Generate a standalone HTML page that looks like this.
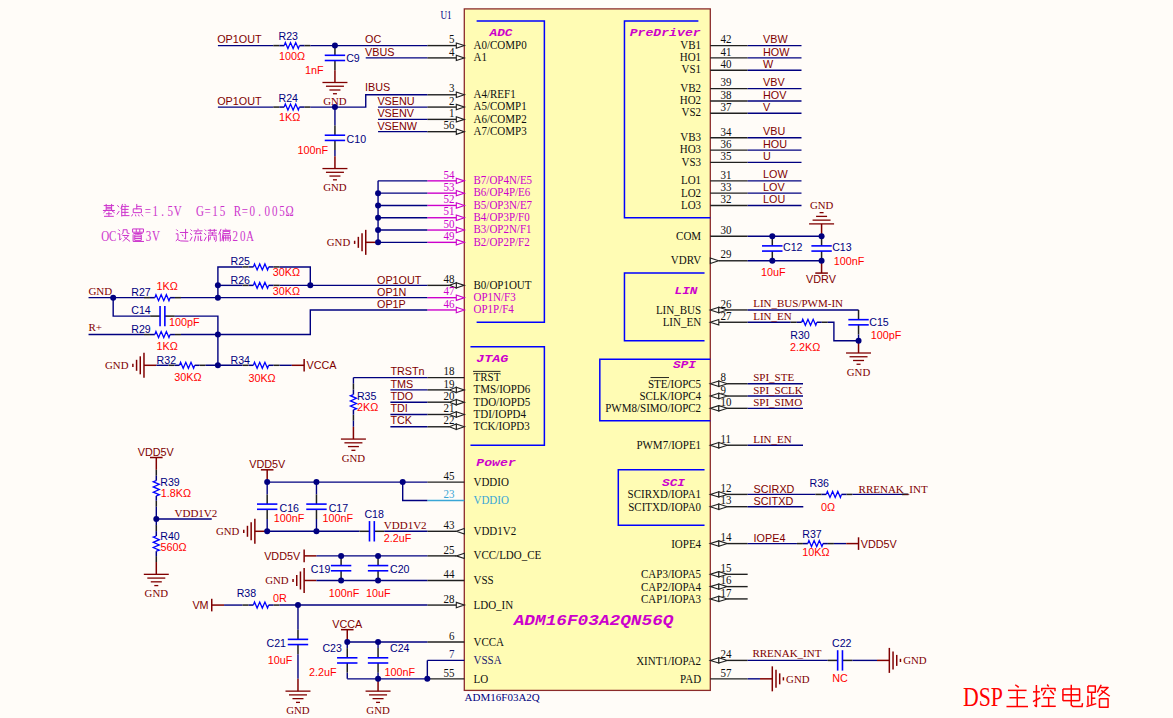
<!DOCTYPE html>
<html><head><meta charset="utf-8"><title>DSP</title>
<style>html,body{margin:0;padding:0;background:#FFFCF8;overflow:hidden;}svg{display:block;}</style>
</head><body>
<svg width="1173" height="718" viewBox="0 0 1173 718">
<rect x="0" y="0" width="1173" height="718" fill="#FFFCF8"/>
<rect x="464.3" y="8.9" width="246" height="681.5" stroke="#8B2A2A" stroke-width="1.3" fill="#FFFCB4"/>
<polyline points="476.62,21.01 544.38,21.01 544.38,322.26 476.62,322.26" stroke="#0000FF" stroke-width="1.5" fill="none" stroke-linejoin="miter"/>
<polyline points="698.38,21.01 624.46,21.01 624.46,217.74 710.3,217.74" stroke="#0000FF" stroke-width="1.5" fill="none" stroke-linejoin="miter"/>
<polyline points="704.54,273.08 624.46,273.08 624.46,340.7 704.54,340.7" stroke="#0000FF" stroke-width="1.5" fill="none" stroke-linejoin="miter"/>
<polyline points="710.3,359.15 599.82,359.15 599.82,420.63 710.3,420.63" stroke="#0000FF" stroke-width="1.5" fill="none" stroke-linejoin="miter"/>
<polyline points="470.46,346.85 544.38,346.85 544.38,445.22 470.46,445.22" stroke="#0000FF" stroke-width="1.5" fill="none" stroke-linejoin="miter"/>
<polyline points="704.54,469.81 618.3,469.81 618.3,525.14 704.54,525.14" stroke="#0000FF" stroke-width="1.5" fill="none" stroke-linejoin="miter"/>
<text x="489.5" y="36.2" fill="#CC00CC" font-size="11.2" font-family='"Liberation Mono", monospace' textLength="23" lengthAdjust="spacingAndGlyphs" font-weight="bold" font-style="italic">ADC</text>
<text x="700.7" y="36.2" fill="#CC00CC" font-size="11.2" font-family='"Liberation Mono", monospace' text-anchor="end" textLength="71" lengthAdjust="spacingAndGlyphs" font-weight="bold" font-style="italic">PreDriver</text>
<text x="697.5" y="293.5" fill="#CC00CC" font-size="11.2" font-family='"Liberation Mono", monospace' text-anchor="end" textLength="23" lengthAdjust="spacingAndGlyphs" font-weight="bold" font-style="italic">LIN</text>
<text x="696" y="368.2" fill="#CC00CC" font-size="11.2" font-family='"Liberation Mono", monospace' text-anchor="end" textLength="23" lengthAdjust="spacingAndGlyphs" font-weight="bold" font-style="italic">SPI</text>
<text x="476.3" y="361.8" fill="#CC00CC" font-size="11.2" font-family='"Liberation Mono", monospace' textLength="32" lengthAdjust="spacingAndGlyphs" font-weight="bold" font-style="italic">JTAG</text>
<text x="476.3" y="466" fill="#CC00CC" font-size="11.2" font-family='"Liberation Mono", monospace' textLength="39.5" lengthAdjust="spacingAndGlyphs" font-weight="bold" font-style="italic">Power</text>
<text x="685" y="486" fill="#CC00CC" font-size="11.2" font-family='"Liberation Mono", monospace' text-anchor="end" textLength="23" lengthAdjust="spacingAndGlyphs" font-weight="bold" font-style="italic">SCI</text>
<text x="513.7" y="624.8" fill="#CC00CC" font-size="14.5" font-family='"Liberation Mono", monospace' textLength="159.8" lengthAdjust="spacingAndGlyphs" font-weight="bold" font-style="italic">ADM16F03A2QN56Q</text>
<text x="446" y="18.8" fill="#000080" font-size="11.5" font-family='"Liberation Serif", serif' text-anchor="middle" textLength="11.2" lengthAdjust="spacingAndGlyphs">U1</text>
<text x="464.6" y="700.8" fill="#000080" font-size="11" font-family='"Liberation Serif", serif'>ADM16F03A2Q</text>
<line x1="427.34" y1="45.6" x2="456.3" y2="45.6" stroke="#202020" stroke-width="1.4" stroke-linecap="butt"/>
<polygon points="456.3,42.9 464.3,45.6 456.3,48.3" stroke="#202020" stroke-width="1.1" fill="#FFFCF8" stroke-linejoin="miter"/>
<g transform="translate(454.6,43.3) scale(1,1.12)">
<text x="0" y="0" fill="#101010" font-size="11" font-family='"Liberation Serif", serif' text-anchor="end">5</text>
</g>
<g transform="translate(473.5,48.75) scale(1,1.08)">
<text x="0" y="0" fill="#101010" font-size="11" font-family='"Liberation Serif", serif'>A0/COMP0</text>
</g>
<line x1="427.34" y1="57.9" x2="456.3" y2="57.9" stroke="#202020" stroke-width="1.4" stroke-linecap="butt"/>
<polygon points="456.3,55.2 464.3,57.9 456.3,60.6" stroke="#202020" stroke-width="1.1" fill="#FFFCF8" stroke-linejoin="miter"/>
<g transform="translate(454.6,55.6) scale(1,1.12)">
<text x="0" y="0" fill="#101010" font-size="11" font-family='"Liberation Serif", serif' text-anchor="end">4</text>
</g>
<g transform="translate(473.5,61.06) scale(1,1.08)">
<text x="0" y="0" fill="#101010" font-size="11" font-family='"Liberation Serif", serif'>A1</text>
</g>
<line x1="427.34" y1="94.78" x2="456.3" y2="94.78" stroke="#202020" stroke-width="1.4" stroke-linecap="butt"/>
<polygon points="456.3,92.08 464.3,94.78 456.3,97.48" stroke="#202020" stroke-width="1.1" fill="#FFFCF8" stroke-linejoin="miter"/>
<g transform="translate(454.6,92.48) scale(1,1.12)">
<text x="0" y="0" fill="#101010" font-size="11" font-family='"Liberation Serif", serif' text-anchor="end">3</text>
</g>
<g transform="translate(473.5,97.97) scale(1,1.08)">
<text x="0" y="0" fill="#101010" font-size="11" font-family='"Liberation Serif", serif'>A4/REF1</text>
</g>
<line x1="427.34" y1="107.08" x2="456.3" y2="107.08" stroke="#202020" stroke-width="1.4" stroke-linecap="butt"/>
<polygon points="456.3,104.38 464.3,107.08 456.3,109.78" stroke="#202020" stroke-width="1.1" fill="#FFFCF8" stroke-linejoin="miter"/>
<g transform="translate(454.6,104.78) scale(1,1.12)">
<text x="0" y="0" fill="#101010" font-size="11" font-family='"Liberation Serif", serif' text-anchor="end">2</text>
</g>
<g transform="translate(473.5,110.28) scale(1,1.08)">
<text x="0" y="0" fill="#101010" font-size="11" font-family='"Liberation Serif", serif'>A5/COMP1</text>
</g>
<line x1="427.34" y1="119.38" x2="456.3" y2="119.38" stroke="#202020" stroke-width="1.4" stroke-linecap="butt"/>
<polygon points="456.3,116.68 464.3,119.38 456.3,122.08" stroke="#202020" stroke-width="1.1" fill="#FFFCF8" stroke-linejoin="miter"/>
<g transform="translate(454.6,117.08) scale(1,1.12)">
<text x="0" y="0" fill="#101010" font-size="11" font-family='"Liberation Serif", serif' text-anchor="end">1</text>
</g>
<g transform="translate(473.5,122.59) scale(1,1.08)">
<text x="0" y="0" fill="#101010" font-size="11" font-family='"Liberation Serif", serif'>A6/COMP2</text>
</g>
<line x1="427.34" y1="131.67" x2="456.3" y2="131.67" stroke="#202020" stroke-width="1.4" stroke-linecap="butt"/>
<polygon points="456.3,128.97 464.3,131.67 456.3,134.37" stroke="#202020" stroke-width="1.1" fill="#FFFCF8" stroke-linejoin="miter"/>
<g transform="translate(454.6,129.37) scale(1,1.12)">
<text x="0" y="0" fill="#101010" font-size="11" font-family='"Liberation Serif", serif' text-anchor="end">56</text>
</g>
<g transform="translate(473.5,134.89) scale(1,1.08)">
<text x="0" y="0" fill="#101010" font-size="11" font-family='"Liberation Serif", serif'>A7/COMP3</text>
</g>
<line x1="427.34" y1="180.86" x2="456.3" y2="180.86" stroke="#CC00CC" stroke-width="1.4" stroke-linecap="butt"/>
<polygon points="456.3,178.16 464.3,180.86 456.3,183.56" stroke="#CC00CC" stroke-width="1.1" fill="#FFFCF8" stroke-linejoin="miter"/>
<g transform="translate(454.6,178.56) scale(1,1.12)">
<text x="0" y="0" fill="#CC00CC" font-size="11" font-family='"Liberation Serif", serif' text-anchor="end">54</text>
</g>
<g transform="translate(473.5,184.12) scale(1,1.08)">
<text x="0" y="0" fill="#CC00CC" font-size="11" font-family='"Liberation Serif", serif'>B7/OP4N/E5</text>
</g>
<line x1="427.34" y1="193.15" x2="456.3" y2="193.15" stroke="#CC00CC" stroke-width="1.4" stroke-linecap="butt"/>
<polygon points="456.3,190.45 464.3,193.15 456.3,195.85" stroke="#CC00CC" stroke-width="1.1" fill="#FFFCF8" stroke-linejoin="miter"/>
<g transform="translate(454.6,190.85) scale(1,1.12)">
<text x="0" y="0" fill="#CC00CC" font-size="11" font-family='"Liberation Serif", serif' text-anchor="end">53</text>
</g>
<g transform="translate(473.5,196.42) scale(1,1.08)">
<text x="0" y="0" fill="#CC00CC" font-size="11" font-family='"Liberation Serif", serif'>B6/OP4P/E6</text>
</g>
<line x1="427.34" y1="205.45" x2="456.3" y2="205.45" stroke="#CC00CC" stroke-width="1.4" stroke-linecap="butt"/>
<polygon points="456.3,202.75 464.3,205.45 456.3,208.15" stroke="#CC00CC" stroke-width="1.1" fill="#FFFCF8" stroke-linejoin="miter"/>
<g transform="translate(454.6,203.15) scale(1,1.12)">
<text x="0" y="0" fill="#CC00CC" font-size="11" font-family='"Liberation Serif", serif' text-anchor="end">52</text>
</g>
<g transform="translate(473.5,208.73) scale(1,1.08)">
<text x="0" y="0" fill="#CC00CC" font-size="11" font-family='"Liberation Serif", serif'>B5/OP3N/E7</text>
</g>
<line x1="427.34" y1="217.74" x2="456.3" y2="217.74" stroke="#CC00CC" stroke-width="1.4" stroke-linecap="butt"/>
<polygon points="456.3,215.04 464.3,217.74 456.3,220.44" stroke="#CC00CC" stroke-width="1.1" fill="#FFFCF8" stroke-linejoin="miter"/>
<g transform="translate(454.6,215.44) scale(1,1.12)">
<text x="0" y="0" fill="#CC00CC" font-size="11" font-family='"Liberation Serif", serif' text-anchor="end">51</text>
</g>
<g transform="translate(473.5,221.03) scale(1,1.08)">
<text x="0" y="0" fill="#CC00CC" font-size="11" font-family='"Liberation Serif", serif'>B4/OP3P/F0</text>
</g>
<line x1="427.34" y1="230.04" x2="456.3" y2="230.04" stroke="#CC00CC" stroke-width="1.4" stroke-linecap="butt"/>
<polygon points="456.3,227.34 464.3,230.04 456.3,232.74" stroke="#CC00CC" stroke-width="1.1" fill="#FFFCF8" stroke-linejoin="miter"/>
<g transform="translate(454.6,227.74) scale(1,1.12)">
<text x="0" y="0" fill="#CC00CC" font-size="11" font-family='"Liberation Serif", serif' text-anchor="end">50</text>
</g>
<g transform="translate(473.5,233.34) scale(1,1.08)">
<text x="0" y="0" fill="#CC00CC" font-size="11" font-family='"Liberation Serif", serif'>B3/OP2N/F1</text>
</g>
<line x1="427.34" y1="242.34" x2="456.3" y2="242.34" stroke="#CC00CC" stroke-width="1.4" stroke-linecap="butt"/>
<polygon points="456.3,239.64 464.3,242.34 456.3,245.04" stroke="#CC00CC" stroke-width="1.1" fill="#FFFCF8" stroke-linejoin="miter"/>
<g transform="translate(454.6,240.04) scale(1,1.12)">
<text x="0" y="0" fill="#CC00CC" font-size="11" font-family='"Liberation Serif", serif' text-anchor="end">49</text>
</g>
<g transform="translate(473.5,245.65) scale(1,1.08)">
<text x="0" y="0" fill="#CC00CC" font-size="11" font-family='"Liberation Serif", serif'>B2/OP2P/F2</text>
</g>
<line x1="427.34" y1="285.37" x2="449.3" y2="285.37" stroke="#202020" stroke-width="1.4" stroke-linecap="butt"/>
<polygon points="456.3,282.67 464.3,285.37 456.3,288.07" stroke="#202020" stroke-width="1.1" fill="#FFFCF8" stroke-linejoin="miter"/>
<polygon points="456.3,282.67 449.3,285.37 456.3,288.07" stroke="#202020" stroke-width="1.1" fill="#FFFCF8" stroke-linejoin="miter"/>
<g transform="translate(454.6,283.07) scale(1,1.12)">
<text x="0" y="0" fill="#101010" font-size="11" font-family='"Liberation Serif", serif' text-anchor="end">48</text>
</g>
<g transform="translate(473.5,288.72) scale(1,1.08)">
<text x="0" y="0" fill="#101010" font-size="11" font-family='"Liberation Serif", serif'>B0/OP1OUT</text>
</g>
<line x1="427.34" y1="297.67" x2="456.3" y2="297.67" stroke="#CC00CC" stroke-width="1.4" stroke-linecap="butt"/>
<polygon points="456.3,294.97 464.3,297.67 456.3,300.37" stroke="#CC00CC" stroke-width="1.1" fill="#FFFCF8" stroke-linejoin="miter"/>
<g transform="translate(454.6,295.37) scale(1,1.12)">
<text x="0" y="0" fill="#CC00CC" font-size="11" font-family='"Liberation Serif", serif' text-anchor="end">47</text>
</g>
<g transform="translate(473.5,301.02) scale(1,1.08)">
<text x="0" y="0" fill="#CC00CC" font-size="11" font-family='"Liberation Serif", serif'>OP1N/F3</text>
</g>
<line x1="427.34" y1="309.96" x2="456.3" y2="309.96" stroke="#CC00CC" stroke-width="1.4" stroke-linecap="butt"/>
<polygon points="456.3,307.26 464.3,309.96 456.3,312.66" stroke="#CC00CC" stroke-width="1.1" fill="#FFFCF8" stroke-linejoin="miter"/>
<g transform="translate(454.6,307.66) scale(1,1.12)">
<text x="0" y="0" fill="#CC00CC" font-size="11" font-family='"Liberation Serif", serif' text-anchor="end">46</text>
</g>
<g transform="translate(473.5,313.33) scale(1,1.08)">
<text x="0" y="0" fill="#CC00CC" font-size="11" font-family='"Liberation Serif", serif'>OP1P/F4</text>
</g>
<line x1="427.34" y1="377.59" x2="464.3" y2="377.59" stroke="#202020" stroke-width="1.4" stroke-linecap="butt"/>
<g transform="translate(454.6,375.29) scale(1,1.12)">
<text x="0" y="0" fill="#101010" font-size="11" font-family='"Liberation Serif", serif' text-anchor="end">18</text>
</g>
<g transform="translate(473.5,381.01) scale(1,1.08)">
<text x="0" y="0" fill="#101010" font-size="11" font-family='"Liberation Serif", serif'>TRST</text>
</g>
<line x1="427.34" y1="389.89" x2="449.3" y2="389.89" stroke="#202020" stroke-width="1.4" stroke-linecap="butt"/>
<polygon points="456.3,387.19 464.3,389.89 456.3,392.59" stroke="#202020" stroke-width="1.1" fill="#FFFCF8" stroke-linejoin="miter"/>
<polygon points="456.3,387.19 449.3,389.89 456.3,392.59" stroke="#202020" stroke-width="1.1" fill="#FFFCF8" stroke-linejoin="miter"/>
<g transform="translate(454.6,387.59) scale(1,1.12)">
<text x="0" y="0" fill="#101010" font-size="11" font-family='"Liberation Serif", serif' text-anchor="end">19</text>
</g>
<g transform="translate(473.5,393.32) scale(1,1.08)">
<text x="0" y="0" fill="#101010" font-size="11" font-family='"Liberation Serif", serif'>TMS/IOPD6</text>
</g>
<line x1="427.34" y1="402.18" x2="449.3" y2="402.18" stroke="#202020" stroke-width="1.4" stroke-linecap="butt"/>
<polygon points="456.3,399.48 464.3,402.18 456.3,404.88" stroke="#202020" stroke-width="1.1" fill="#FFFCF8" stroke-linejoin="miter"/>
<polygon points="456.3,399.48 449.3,402.18 456.3,404.88" stroke="#202020" stroke-width="1.1" fill="#FFFCF8" stroke-linejoin="miter"/>
<g transform="translate(454.6,399.88) scale(1,1.12)">
<text x="0" y="0" fill="#101010" font-size="11" font-family='"Liberation Serif", serif' text-anchor="end">20</text>
</g>
<g transform="translate(473.5,405.62) scale(1,1.08)">
<text x="0" y="0" fill="#101010" font-size="11" font-family='"Liberation Serif", serif'>TDO/IOPD5</text>
</g>
<line x1="427.34" y1="414.48" x2="449.3" y2="414.48" stroke="#202020" stroke-width="1.4" stroke-linecap="butt"/>
<polygon points="456.3,411.78 464.3,414.48 456.3,417.18" stroke="#202020" stroke-width="1.1" fill="#FFFCF8" stroke-linejoin="miter"/>
<polygon points="456.3,411.78 449.3,414.48 456.3,417.18" stroke="#202020" stroke-width="1.1" fill="#FFFCF8" stroke-linejoin="miter"/>
<g transform="translate(454.6,412.18) scale(1,1.12)">
<text x="0" y="0" fill="#101010" font-size="11" font-family='"Liberation Serif", serif' text-anchor="end">21</text>
</g>
<g transform="translate(473.5,417.93) scale(1,1.08)">
<text x="0" y="0" fill="#101010" font-size="11" font-family='"Liberation Serif", serif'>TDI/IOPD4</text>
</g>
<line x1="427.34" y1="426.78" x2="449.3" y2="426.78" stroke="#202020" stroke-width="1.4" stroke-linecap="butt"/>
<polygon points="456.3,424.08 464.3,426.78 456.3,429.48" stroke="#202020" stroke-width="1.1" fill="#FFFCF8" stroke-linejoin="miter"/>
<polygon points="456.3,424.08 449.3,426.78 456.3,429.48" stroke="#202020" stroke-width="1.1" fill="#FFFCF8" stroke-linejoin="miter"/>
<g transform="translate(454.6,424.48) scale(1,1.12)">
<text x="0" y="0" fill="#101010" font-size="11" font-family='"Liberation Serif", serif' text-anchor="end">22</text>
</g>
<g transform="translate(473.5,430.24) scale(1,1.08)">
<text x="0" y="0" fill="#101010" font-size="11" font-family='"Liberation Serif", serif'>TCK/IOPD3</text>
</g>
<line x1="427.34" y1="482.11" x2="464.3" y2="482.11" stroke="#202020" stroke-width="1.4" stroke-linecap="butt"/>
<g transform="translate(454.6,479.81) scale(1,1.12)">
<text x="0" y="0" fill="#101010" font-size="11" font-family='"Liberation Serif", serif' text-anchor="end">45</text>
</g>
<g transform="translate(473.5,485.61) scale(1,1.08)">
<text x="0" y="0" fill="#101010" font-size="11" font-family='"Liberation Serif", serif'>VDDIO</text>
</g>
<line x1="427.34" y1="500.55" x2="464.3" y2="500.55" stroke="#3AA6D6" stroke-width="1.4" stroke-linecap="butt"/>
<g transform="translate(454.6,498.25) scale(1,1.12)">
<text x="0" y="0" fill="#3AA6D6" font-size="11" font-family='"Liberation Serif", serif' text-anchor="end">23</text>
</g>
<g transform="translate(473.5,504.07) scale(1,1.08)">
<text x="0" y="0" fill="#3AA6D6" font-size="11" font-family='"Liberation Serif", serif'>VDDIO</text>
</g>
<line x1="427.34" y1="531.29" x2="456.3" y2="531.29" stroke="#202020" stroke-width="1.4" stroke-linecap="butt"/>
<polygon points="464.3,528.59 456.3,531.29 464.3,533.99" stroke="#202020" stroke-width="1.1" fill="#FFFCF8" stroke-linejoin="miter"/>
<g transform="translate(454.6,528.99) scale(1,1.12)">
<text x="0" y="0" fill="#101010" font-size="11" font-family='"Liberation Serif", serif' text-anchor="end">43</text>
</g>
<g transform="translate(473.5,534.84) scale(1,1.08)">
<text x="0" y="0" fill="#101010" font-size="11" font-family='"Liberation Serif", serif'>VDD1V2</text>
</g>
<line x1="427.34" y1="555.88" x2="456.3" y2="555.88" stroke="#202020" stroke-width="1.4" stroke-linecap="butt"/>
<polygon points="464.3,553.18 456.3,555.88 464.3,558.58" stroke="#202020" stroke-width="1.1" fill="#FFFCF8" stroke-linejoin="miter"/>
<g transform="translate(454.6,553.58) scale(1,1.12)">
<text x="0" y="0" fill="#101010" font-size="11" font-family='"Liberation Serif", serif' text-anchor="end">25</text>
</g>
<g transform="translate(473.5,559.45) scale(1,1.08)">
<text x="0" y="0" fill="#101010" font-size="11" font-family='"Liberation Serif", serif'>VCC/LDO_CE</text>
</g>
<line x1="427.34" y1="580.48" x2="464.3" y2="580.48" stroke="#202020" stroke-width="1.4" stroke-linecap="butt"/>
<g transform="translate(454.6,578.18) scale(1,1.12)">
<text x="0" y="0" fill="#101010" font-size="11" font-family='"Liberation Serif", serif' text-anchor="end">44</text>
</g>
<g transform="translate(473.5,584.06) scale(1,1.08)">
<text x="0" y="0" fill="#101010" font-size="11" font-family='"Liberation Serif", serif'>VSS</text>
</g>
<line x1="427.34" y1="605.07" x2="456.3" y2="605.07" stroke="#202020" stroke-width="1.4" stroke-linecap="butt"/>
<polygon points="456.3,602.37 464.3,605.07 456.3,607.77" stroke="#202020" stroke-width="1.1" fill="#FFFCF8" stroke-linejoin="miter"/>
<g transform="translate(454.6,602.77) scale(1,1.12)">
<text x="0" y="0" fill="#101010" font-size="11" font-family='"Liberation Serif", serif' text-anchor="end">28</text>
</g>
<g transform="translate(473.5,608.67) scale(1,1.08)">
<text x="0" y="0" fill="#101010" font-size="11" font-family='"Liberation Serif", serif'>LDO_IN</text>
</g>
<line x1="427.34" y1="641.96" x2="464.3" y2="641.96" stroke="#202020" stroke-width="1.4" stroke-linecap="butt"/>
<g transform="translate(454.6,639.66) scale(1,1.12)">
<text x="0" y="0" fill="#101010" font-size="11" font-family='"Liberation Serif", serif' text-anchor="end">6</text>
</g>
<g transform="translate(473.5,645.59) scale(1,1.08)">
<text x="0" y="0" fill="#101010" font-size="11" font-family='"Liberation Serif", serif'>VCCA</text>
</g>
<line x1="427.34" y1="660.4" x2="464.3" y2="660.4" stroke="#000080" stroke-width="1.4" stroke-linecap="butt"/>
<g transform="translate(454.6,658.1) scale(1,1.12)">
<text x="0" y="0" fill="#1a1a70" font-size="11" font-family='"Liberation Serif", serif' text-anchor="end">7</text>
</g>
<g transform="translate(473.5,664.05) scale(1,1.08)">
<text x="0" y="0" fill="#1a1a70" font-size="11" font-family='"Liberation Serif", serif'>VSSA</text>
</g>
<line x1="427.34" y1="678.84" x2="464.3" y2="678.84" stroke="#202020" stroke-width="1.4" stroke-linecap="butt"/>
<g transform="translate(454.6,676.54) scale(1,1.12)">
<text x="0" y="0" fill="#101010" font-size="11" font-family='"Liberation Serif", serif' text-anchor="end">55</text>
</g>
<g transform="translate(473.5,682.51) scale(1,1.08)">
<text x="0" y="0" fill="#101010" font-size="11" font-family='"Liberation Serif", serif'>LO</text>
</g>
<line x1="473" y1="371.39" x2="500.5" y2="371.39" stroke="#101010" stroke-width="0.9" stroke-linecap="butt"/>
<line x1="710.3" y1="45.6" x2="747.66" y2="45.6" stroke="#202020" stroke-width="1.4" stroke-linecap="butt"/>
<g transform="translate(720.5,43.3) scale(1,1.12)">
<text x="0" y="0" fill="#101010" font-size="11" font-family='"Liberation Serif", serif'>42</text>
</g>
<g transform="translate(701.1,48.7) scale(1,1.08)">
<text x="0" y="0" fill="#101010" font-size="11" font-family='"Liberation Serif", serif' text-anchor="end">VB1</text>
</g>
<line x1="710.3" y1="57.9" x2="747.66" y2="57.9" stroke="#202020" stroke-width="1.4" stroke-linecap="butt"/>
<g transform="translate(720.5,55.6) scale(1,1.12)">
<text x="0" y="0" fill="#101010" font-size="11" font-family='"Liberation Serif", serif'>41</text>
</g>
<g transform="translate(701.1,61.02) scale(1,1.08)">
<text x="0" y="0" fill="#101010" font-size="11" font-family='"Liberation Serif", serif' text-anchor="end">HO1</text>
</g>
<line x1="710.3" y1="70.19" x2="747.66" y2="70.19" stroke="#202020" stroke-width="1.4" stroke-linecap="butt"/>
<g transform="translate(720.5,67.89) scale(1,1.12)">
<text x="0" y="0" fill="#101010" font-size="11" font-family='"Liberation Serif", serif'>40</text>
</g>
<g transform="translate(701.1,73.34) scale(1,1.08)">
<text x="0" y="0" fill="#101010" font-size="11" font-family='"Liberation Serif", serif' text-anchor="end">VS1</text>
</g>
<line x1="710.3" y1="88.64" x2="747.66" y2="88.64" stroke="#202020" stroke-width="1.4" stroke-linecap="butt"/>
<g transform="translate(720.5,86.34) scale(1,1.12)">
<text x="0" y="0" fill="#101010" font-size="11" font-family='"Liberation Serif", serif'>39</text>
</g>
<g transform="translate(701.1,91.82) scale(1,1.08)">
<text x="0" y="0" fill="#101010" font-size="11" font-family='"Liberation Serif", serif' text-anchor="end">VB2</text>
</g>
<line x1="710.3" y1="100.93" x2="747.66" y2="100.93" stroke="#202020" stroke-width="1.4" stroke-linecap="butt"/>
<g transform="translate(720.5,98.63) scale(1,1.12)">
<text x="0" y="0" fill="#101010" font-size="11" font-family='"Liberation Serif", serif'>38</text>
</g>
<g transform="translate(701.1,104.14) scale(1,1.08)">
<text x="0" y="0" fill="#101010" font-size="11" font-family='"Liberation Serif", serif' text-anchor="end">HO2</text>
</g>
<line x1="710.3" y1="113.23" x2="747.66" y2="113.23" stroke="#202020" stroke-width="1.4" stroke-linecap="butt"/>
<g transform="translate(720.5,110.93) scale(1,1.12)">
<text x="0" y="0" fill="#101010" font-size="11" font-family='"Liberation Serif", serif'>37</text>
</g>
<g transform="translate(701.1,116.46) scale(1,1.08)">
<text x="0" y="0" fill="#101010" font-size="11" font-family='"Liberation Serif", serif' text-anchor="end">VS2</text>
</g>
<line x1="710.3" y1="137.82" x2="747.66" y2="137.82" stroke="#202020" stroke-width="1.4" stroke-linecap="butt"/>
<g transform="translate(720.5,135.52) scale(1,1.12)">
<text x="0" y="0" fill="#101010" font-size="11" font-family='"Liberation Serif", serif'>34</text>
</g>
<g transform="translate(701.1,141.1) scale(1,1.08)">
<text x="0" y="0" fill="#101010" font-size="11" font-family='"Liberation Serif", serif' text-anchor="end">VB3</text>
</g>
<line x1="710.3" y1="150.12" x2="747.66" y2="150.12" stroke="#202020" stroke-width="1.4" stroke-linecap="butt"/>
<g transform="translate(720.5,147.82) scale(1,1.12)">
<text x="0" y="0" fill="#101010" font-size="11" font-family='"Liberation Serif", serif'>36</text>
</g>
<g transform="translate(701.1,153.42) scale(1,1.08)">
<text x="0" y="0" fill="#101010" font-size="11" font-family='"Liberation Serif", serif' text-anchor="end">HO3</text>
</g>
<line x1="710.3" y1="162.41" x2="747.66" y2="162.41" stroke="#202020" stroke-width="1.4" stroke-linecap="butt"/>
<g transform="translate(720.5,160.11) scale(1,1.12)">
<text x="0" y="0" fill="#101010" font-size="11" font-family='"Liberation Serif", serif'>35</text>
</g>
<g transform="translate(701.1,165.74) scale(1,1.08)">
<text x="0" y="0" fill="#101010" font-size="11" font-family='"Liberation Serif", serif' text-anchor="end">VS3</text>
</g>
<line x1="710.3" y1="180.86" x2="747.66" y2="180.86" stroke="#202020" stroke-width="1.4" stroke-linecap="butt"/>
<g transform="translate(720.5,178.56) scale(1,1.12)">
<text x="0" y="0" fill="#101010" font-size="11" font-family='"Liberation Serif", serif'>31</text>
</g>
<g transform="translate(701.1,184.22) scale(1,1.08)">
<text x="0" y="0" fill="#101010" font-size="11" font-family='"Liberation Serif", serif' text-anchor="end">LO1</text>
</g>
<line x1="710.3" y1="193.15" x2="747.66" y2="193.15" stroke="#202020" stroke-width="1.4" stroke-linecap="butt"/>
<g transform="translate(720.5,190.85) scale(1,1.12)">
<text x="0" y="0" fill="#101010" font-size="11" font-family='"Liberation Serif", serif'>33</text>
</g>
<g transform="translate(701.1,196.54) scale(1,1.08)">
<text x="0" y="0" fill="#101010" font-size="11" font-family='"Liberation Serif", serif' text-anchor="end">LO2</text>
</g>
<line x1="710.3" y1="205.45" x2="747.66" y2="205.45" stroke="#202020" stroke-width="1.4" stroke-linecap="butt"/>
<g transform="translate(720.5,203.15) scale(1,1.12)">
<text x="0" y="0" fill="#101010" font-size="11" font-family='"Liberation Serif", serif'>32</text>
</g>
<g transform="translate(701.1,208.86) scale(1,1.08)">
<text x="0" y="0" fill="#101010" font-size="11" font-family='"Liberation Serif", serif' text-anchor="end">LO3</text>
</g>
<line x1="710.3" y1="236.19" x2="747.66" y2="236.19" stroke="#202020" stroke-width="1.4" stroke-linecap="butt"/>
<g transform="translate(720.5,233.89) scale(1,1.12)">
<text x="0" y="0" fill="#101010" font-size="11" font-family='"Liberation Serif", serif'>30</text>
</g>
<g transform="translate(701.1,239.66) scale(1,1.08)">
<text x="0" y="0" fill="#101010" font-size="11" font-family='"Liberation Serif", serif' text-anchor="end">COM</text>
</g>
<line x1="718.8" y1="260.78" x2="747.66" y2="260.78" stroke="#202020" stroke-width="1.4" stroke-linecap="butt"/>
<polygon points="710.3,258.08 718.6,260.78 710.3,263.48" stroke="#202020" stroke-width="1.1" fill="#FFFCF8" stroke-linejoin="miter"/>
<g transform="translate(720.5,258.48) scale(1,1.12)">
<text x="0" y="0" fill="#101010" font-size="11" font-family='"Liberation Serif", serif'>29</text>
</g>
<g transform="translate(701.1,264.3) scale(1,1.08)">
<text x="0" y="0" fill="#101010" font-size="11" font-family='"Liberation Serif", serif' text-anchor="end">VDRV</text>
</g>
<line x1="727.3" y1="309.96" x2="747.66" y2="309.96" stroke="#202020" stroke-width="1.4" stroke-linecap="butt"/>
<polygon points="718.8,307.26 710.3,309.96 718.8,312.66" stroke="#202020" stroke-width="1.1" fill="#FFFCF8" stroke-linejoin="miter"/>
<polygon points="718.8,307.26 727.3,309.96 718.8,312.66" stroke="#202020" stroke-width="1.1" fill="#FFFCF8" stroke-linejoin="miter"/>
<g transform="translate(720.5,307.66) scale(1,1.12)">
<text x="0" y="0" fill="#101010" font-size="11" font-family='"Liberation Serif", serif'>26</text>
</g>
<g transform="translate(701.1,313.58) scale(1,1.08)">
<text x="0" y="0" fill="#101010" font-size="11" font-family='"Liberation Serif", serif' text-anchor="end">LIN_BUS</text>
</g>
<line x1="718.8" y1="322.26" x2="747.66" y2="322.26" stroke="#202020" stroke-width="1.4" stroke-linecap="butt"/>
<polygon points="718.8,319.56 710.3,322.26 718.8,324.96" stroke="#202020" stroke-width="1.1" fill="#FFFCF8" stroke-linejoin="miter"/>
<g transform="translate(720.5,319.96) scale(1,1.12)">
<text x="0" y="0" fill="#101010" font-size="11" font-family='"Liberation Serif", serif'>27</text>
</g>
<g transform="translate(701.1,325.9) scale(1,1.08)">
<text x="0" y="0" fill="#101010" font-size="11" font-family='"Liberation Serif", serif' text-anchor="end">LIN_EN</text>
</g>
<line x1="727.3" y1="383.74" x2="747.66" y2="383.74" stroke="#202020" stroke-width="1.4" stroke-linecap="butt"/>
<polygon points="718.8,381.04 710.3,383.74 718.8,386.44" stroke="#202020" stroke-width="1.1" fill="#FFFCF8" stroke-linejoin="miter"/>
<polygon points="718.8,381.04 727.3,383.74 718.8,386.44" stroke="#202020" stroke-width="1.1" fill="#FFFCF8" stroke-linejoin="miter"/>
<g transform="translate(720.5,381.44) scale(1,1.12)">
<text x="0" y="0" fill="#101010" font-size="11" font-family='"Liberation Serif", serif'>8</text>
</g>
<g transform="translate(701.1,387.5) scale(1,1.08)">
<text x="0" y="0" fill="#101010" font-size="11" font-family='"Liberation Serif", serif' text-anchor="end">STE/IOPC5</text>
</g>
<line x1="727.3" y1="396.04" x2="747.66" y2="396.04" stroke="#202020" stroke-width="1.4" stroke-linecap="butt"/>
<polygon points="718.8,393.34 710.3,396.04 718.8,398.74" stroke="#202020" stroke-width="1.1" fill="#FFFCF8" stroke-linejoin="miter"/>
<polygon points="718.8,393.34 727.3,396.04 718.8,398.74" stroke="#202020" stroke-width="1.1" fill="#FFFCF8" stroke-linejoin="miter"/>
<g transform="translate(720.5,393.74) scale(1,1.12)">
<text x="0" y="0" fill="#101010" font-size="11" font-family='"Liberation Serif", serif'>9</text>
</g>
<g transform="translate(701.1,399.82) scale(1,1.08)">
<text x="0" y="0" fill="#101010" font-size="11" font-family='"Liberation Serif", serif' text-anchor="end">SCLK/IOPC4</text>
</g>
<line x1="727.3" y1="408.33" x2="747.66" y2="408.33" stroke="#202020" stroke-width="1.4" stroke-linecap="butt"/>
<polygon points="718.8,405.63 710.3,408.33 718.8,411.03" stroke="#202020" stroke-width="1.1" fill="#FFFCF8" stroke-linejoin="miter"/>
<polygon points="718.8,405.63 727.3,408.33 718.8,411.03" stroke="#202020" stroke-width="1.1" fill="#FFFCF8" stroke-linejoin="miter"/>
<g transform="translate(720.5,406.03) scale(1,1.12)">
<text x="0" y="0" fill="#101010" font-size="11" font-family='"Liberation Serif", serif'>10</text>
</g>
<g transform="translate(701.1,412.14) scale(1,1.08)">
<text x="0" y="0" fill="#101010" font-size="11" font-family='"Liberation Serif", serif' text-anchor="end">PWM8/SIMO/IOPC2</text>
</g>
<line x1="727.3" y1="445.22" x2="747.66" y2="445.22" stroke="#202020" stroke-width="1.4" stroke-linecap="butt"/>
<polygon points="718.8,442.52 710.3,445.22 718.8,447.92" stroke="#202020" stroke-width="1.1" fill="#FFFCF8" stroke-linejoin="miter"/>
<polygon points="718.8,442.52 727.3,445.22 718.8,447.92" stroke="#202020" stroke-width="1.1" fill="#FFFCF8" stroke-linejoin="miter"/>
<g transform="translate(720.5,442.92) scale(1,1.12)">
<text x="0" y="0" fill="#101010" font-size="11" font-family='"Liberation Serif", serif'>11</text>
</g>
<g transform="translate(701.1,449.1) scale(1,1.08)">
<text x="0" y="0" fill="#101010" font-size="11" font-family='"Liberation Serif", serif' text-anchor="end">PWM7/IOPE1</text>
</g>
<line x1="727.3" y1="494.4" x2="747.66" y2="494.4" stroke="#202020" stroke-width="1.4" stroke-linecap="butt"/>
<polygon points="718.8,491.7 710.3,494.4 718.8,497.1" stroke="#202020" stroke-width="1.1" fill="#FFFCF8" stroke-linejoin="miter"/>
<polygon points="718.8,491.7 727.3,494.4 718.8,497.1" stroke="#202020" stroke-width="1.1" fill="#FFFCF8" stroke-linejoin="miter"/>
<g transform="translate(720.5,492.1) scale(1,1.12)">
<text x="0" y="0" fill="#101010" font-size="11" font-family='"Liberation Serif", serif'>12</text>
</g>
<g transform="translate(701.1,498.38) scale(1,1.08)">
<text x="0" y="0" fill="#101010" font-size="11" font-family='"Liberation Serif", serif' text-anchor="end">SCIRXD/IOPA1</text>
</g>
<line x1="727.3" y1="506.7" x2="747.66" y2="506.7" stroke="#202020" stroke-width="1.4" stroke-linecap="butt"/>
<polygon points="718.8,504 710.3,506.7 718.8,509.4" stroke="#202020" stroke-width="1.1" fill="#FFFCF8" stroke-linejoin="miter"/>
<polygon points="718.8,504 727.3,506.7 718.8,509.4" stroke="#202020" stroke-width="1.1" fill="#FFFCF8" stroke-linejoin="miter"/>
<g transform="translate(720.5,504.4) scale(1,1.12)">
<text x="0" y="0" fill="#101010" font-size="11" font-family='"Liberation Serif", serif'>13</text>
</g>
<g transform="translate(701.1,510.7) scale(1,1.08)">
<text x="0" y="0" fill="#101010" font-size="11" font-family='"Liberation Serif", serif' text-anchor="end">SCITXD/IOPA0</text>
</g>
<line x1="727.3" y1="543.59" x2="747.66" y2="543.59" stroke="#202020" stroke-width="1.4" stroke-linecap="butt"/>
<polygon points="718.8,540.89 710.3,543.59 718.8,546.29" stroke="#202020" stroke-width="1.1" fill="#FFFCF8" stroke-linejoin="miter"/>
<polygon points="718.8,540.89 727.3,543.59 718.8,546.29" stroke="#202020" stroke-width="1.1" fill="#FFFCF8" stroke-linejoin="miter"/>
<g transform="translate(720.5,541.29) scale(1,1.12)">
<text x="0" y="0" fill="#101010" font-size="11" font-family='"Liberation Serif", serif'>14</text>
</g>
<g transform="translate(701.1,547.66) scale(1,1.08)">
<text x="0" y="0" fill="#101010" font-size="11" font-family='"Liberation Serif", serif' text-anchor="end">IOPE4</text>
</g>
<line x1="727.3" y1="574.33" x2="747.66" y2="574.33" stroke="#202020" stroke-width="1.4" stroke-linecap="butt"/>
<polygon points="718.8,571.63 710.3,574.33 718.8,577.03" stroke="#202020" stroke-width="1.1" fill="#FFFCF8" stroke-linejoin="miter"/>
<polygon points="718.8,571.63 727.3,574.33 718.8,577.03" stroke="#202020" stroke-width="1.1" fill="#FFFCF8" stroke-linejoin="miter"/>
<g transform="translate(720.5,572.03) scale(1,1.12)">
<text x="0" y="0" fill="#101010" font-size="11" font-family='"Liberation Serif", serif'>15</text>
</g>
<g transform="translate(701.1,578.46) scale(1,1.08)">
<text x="0" y="0" fill="#101010" font-size="11" font-family='"Liberation Serif", serif' text-anchor="end">CAP3/IOPA5</text>
</g>
<line x1="727.3" y1="586.62" x2="747.66" y2="586.62" stroke="#202020" stroke-width="1.4" stroke-linecap="butt"/>
<polygon points="718.8,583.92 710.3,586.62 718.8,589.32" stroke="#202020" stroke-width="1.1" fill="#FFFCF8" stroke-linejoin="miter"/>
<polygon points="718.8,583.92 727.3,586.62 718.8,589.32" stroke="#202020" stroke-width="1.1" fill="#FFFCF8" stroke-linejoin="miter"/>
<g transform="translate(720.5,584.32) scale(1,1.12)">
<text x="0" y="0" fill="#101010" font-size="11" font-family='"Liberation Serif", serif'>16</text>
</g>
<g transform="translate(701.1,590.78) scale(1,1.08)">
<text x="0" y="0" fill="#101010" font-size="11" font-family='"Liberation Serif", serif' text-anchor="end">CAP2/IOPA4</text>
</g>
<line x1="727.3" y1="598.92" x2="747.66" y2="598.92" stroke="#202020" stroke-width="1.4" stroke-linecap="butt"/>
<polygon points="718.8,596.22 710.3,598.92 718.8,601.62" stroke="#202020" stroke-width="1.1" fill="#FFFCF8" stroke-linejoin="miter"/>
<polygon points="718.8,596.22 727.3,598.92 718.8,601.62" stroke="#202020" stroke-width="1.1" fill="#FFFCF8" stroke-linejoin="miter"/>
<g transform="translate(720.5,596.62) scale(1,1.12)">
<text x="0" y="0" fill="#101010" font-size="11" font-family='"Liberation Serif", serif'>17</text>
</g>
<g transform="translate(701.1,603.1) scale(1,1.08)">
<text x="0" y="0" fill="#101010" font-size="11" font-family='"Liberation Serif", serif' text-anchor="end">CAP1/IOPA3</text>
</g>
<line x1="727.3" y1="660.4" x2="747.66" y2="660.4" stroke="#202020" stroke-width="1.4" stroke-linecap="butt"/>
<polygon points="718.8,657.7 710.3,660.4 718.8,663.1" stroke="#202020" stroke-width="1.1" fill="#FFFCF8" stroke-linejoin="miter"/>
<polygon points="718.8,657.7 727.3,660.4 718.8,663.1" stroke="#202020" stroke-width="1.1" fill="#FFFCF8" stroke-linejoin="miter"/>
<g transform="translate(720.5,658.1) scale(1,1.12)">
<text x="0" y="0" fill="#101010" font-size="11" font-family='"Liberation Serif", serif'>24</text>
</g>
<g transform="translate(701.1,664.7) scale(1,1.08)">
<text x="0" y="0" fill="#101010" font-size="11" font-family='"Liberation Serif", serif' text-anchor="end">XINT1/IOPA2</text>
</g>
<line x1="710.3" y1="678.84" x2="747.66" y2="678.84" stroke="#202020" stroke-width="1.4" stroke-linecap="butt"/>
<g transform="translate(720.5,676.54) scale(1,1.12)">
<text x="0" y="0" fill="#101010" font-size="11" font-family='"Liberation Serif", serif'>57</text>
</g>
<g transform="translate(701.1,683.18) scale(1,1.08)">
<text x="0" y="0" fill="#101010" font-size="11" font-family='"Liberation Serif", serif' text-anchor="end">PAD</text>
</g>
<line x1="650.5" y1="377.54" x2="669" y2="377.54" stroke="#101010" stroke-width="0.9" stroke-linecap="butt"/>
<polyline points="217.9,45.6 273.32,45.6" stroke="#000080" stroke-width="1.4" fill="none" stroke-linejoin="miter"/>
<line x1="273.32" y1="45.6" x2="279.32" y2="45.6" stroke="#202020" stroke-width="1.5" stroke-linecap="butt"/>
<line x1="304.32" y1="45.6" x2="310.32" y2="45.6" stroke="#202020" stroke-width="1.5" stroke-linecap="butt"/>
<line x1="279.32" y1="45.6" x2="284.22" y2="45.6" stroke="#000080" stroke-width="1.5" stroke-linecap="butt"/>
<line x1="299.42" y1="45.6" x2="304.32" y2="45.6" stroke="#000080" stroke-width="1.5" stroke-linecap="butt"/>
<polyline points="284.22,45.6 285.32,42.6 287.92,48.6 290.52,42.6 293.12,48.6 295.72,42.6 298.32,48.6 299.42,45.6" stroke="#0000FF" stroke-width="1.3" fill="none" stroke-linejoin="miter"/>
<polyline points="310.32,45.6 427.34,45.6" stroke="#000080" stroke-width="1.4" fill="none" stroke-linejoin="miter"/>
<line x1="334.94" y1="45.6" x2="334.94" y2="55.3" stroke="#202020" stroke-width="1.5" stroke-linecap="butt"/>
<line x1="334.94" y1="60.5" x2="334.94" y2="70.2" stroke="#202020" stroke-width="1.5" stroke-linecap="butt"/>
<line x1="324.74" y1="55.3" x2="345.14" y2="55.3" stroke="#0000FF" stroke-width="1.6" stroke-linecap="butt"/>
<line x1="324.74" y1="60.5" x2="345.14" y2="60.5" stroke="#0000FF" stroke-width="1.6" stroke-linecap="butt"/>
<line x1="334.94" y1="70.19" x2="334.94" y2="82.49" stroke="#800000" stroke-width="1.5" stroke-linecap="butt"/>
<line x1="322.44" y1="82.49" x2="347.44" y2="82.49" stroke="#800000" stroke-width="1.3" stroke-linecap="butt"/>
<line x1="325.94" y1="86.24" x2="343.94" y2="86.24" stroke="#800000" stroke-width="1.3" stroke-linecap="butt"/>
<line x1="329.44" y1="89.99" x2="340.44" y2="89.99" stroke="#800000" stroke-width="1.3" stroke-linecap="butt"/>
<line x1="332.94" y1="93.74" x2="336.94" y2="93.74" stroke="#800000" stroke-width="1.3" stroke-linecap="butt"/>
<text x="334.94" y="105.09" fill="#800000" font-size="11" font-family='"Liberation Serif", serif' text-anchor="middle" textLength="23.4" lengthAdjust="spacingAndGlyphs">GND</text>
<text x="217.2" y="42.8" fill="#800000" font-size="10.8" font-family='"Liberation Sans", sans-serif'>OP1OUT</text>
<text x="278.5" y="40.4" fill="#000080" font-size="10.6" font-family='"Liberation Sans", sans-serif'>R23</text>
<text x="279" y="59.5" fill="#FF0000" font-size="10.8" font-family='"Liberation Sans", sans-serif'>100Ω</text>
<text x="346.2" y="62.3" fill="#000080" font-size="10.6" font-family='"Liberation Sans", sans-serif'>C9</text>
<text x="305" y="73.7" fill="#FF0000" font-size="10.8" font-family='"Liberation Sans", sans-serif'>1nF</text>
<text x="365" y="42.5" fill="#800000" font-size="10.8" font-family='"Liberation Sans", sans-serif'>OC</text>
<polyline points="365.74,57.9 427.34,57.9" stroke="#000080" stroke-width="1.4" fill="none" stroke-linejoin="miter"/>
<text x="365" y="55.7" fill="#800000" font-size="10.8" font-family='"Liberation Sans", sans-serif'>VBUS</text>
<polyline points="217.9,107.08 273.32,107.08" stroke="#000080" stroke-width="1.4" fill="none" stroke-linejoin="miter"/>
<line x1="273.32" y1="107.08" x2="279.32" y2="107.08" stroke="#202020" stroke-width="1.5" stroke-linecap="butt"/>
<line x1="304.32" y1="107.08" x2="310.32" y2="107.08" stroke="#202020" stroke-width="1.5" stroke-linecap="butt"/>
<line x1="279.32" y1="107.08" x2="284.22" y2="107.08" stroke="#000080" stroke-width="1.5" stroke-linecap="butt"/>
<line x1="299.42" y1="107.08" x2="304.32" y2="107.08" stroke="#000080" stroke-width="1.5" stroke-linecap="butt"/>
<polyline points="284.22,107.08 285.32,104.08 287.92,110.08 290.52,104.08 293.12,110.08 295.72,104.08 298.32,110.08 299.42,107.08" stroke="#0000FF" stroke-width="1.3" fill="none" stroke-linejoin="miter"/>
<polyline points="310.32,107.08 365.74,107.08 365.74,94.78 427.34,94.78" stroke="#000080" stroke-width="1.4" fill="none" stroke-linejoin="miter"/>
<polyline points="334.94,107.08 334.94,125.52" stroke="#000080" stroke-width="1.4" fill="none" stroke-linejoin="miter"/>
<line x1="334.94" y1="125.52" x2="334.94" y2="135.22" stroke="#202020" stroke-width="1.5" stroke-linecap="butt"/>
<line x1="334.94" y1="140.42" x2="334.94" y2="150.12" stroke="#202020" stroke-width="1.5" stroke-linecap="butt"/>
<line x1="324.74" y1="135.22" x2="345.14" y2="135.22" stroke="#0000FF" stroke-width="1.6" stroke-linecap="butt"/>
<line x1="324.74" y1="140.42" x2="345.14" y2="140.42" stroke="#0000FF" stroke-width="1.6" stroke-linecap="butt"/>
<polyline points="334.94,150.12 334.94,156.26" stroke="#000080" stroke-width="1.4" fill="none" stroke-linejoin="miter"/>
<line x1="334.94" y1="156.26" x2="334.94" y2="168.56" stroke="#800000" stroke-width="1.5" stroke-linecap="butt"/>
<line x1="322.44" y1="168.56" x2="347.44" y2="168.56" stroke="#800000" stroke-width="1.3" stroke-linecap="butt"/>
<line x1="325.94" y1="172.31" x2="343.94" y2="172.31" stroke="#800000" stroke-width="1.3" stroke-linecap="butt"/>
<line x1="329.44" y1="176.06" x2="340.44" y2="176.06" stroke="#800000" stroke-width="1.3" stroke-linecap="butt"/>
<line x1="332.94" y1="179.81" x2="336.94" y2="179.81" stroke="#800000" stroke-width="1.3" stroke-linecap="butt"/>
<text x="334.94" y="191.16" fill="#800000" font-size="11" font-family='"Liberation Serif", serif' text-anchor="middle" textLength="23.4" lengthAdjust="spacingAndGlyphs">GND</text>
<text x="217.2" y="104.5" fill="#800000" font-size="10.8" font-family='"Liberation Sans", sans-serif'>OP1OUT</text>
<text x="278.5" y="101.7" fill="#000080" font-size="10.6" font-family='"Liberation Sans", sans-serif'>R24</text>
<text x="279" y="120.8" fill="#FF0000" font-size="10.8" font-family='"Liberation Sans", sans-serif'>1KΩ</text>
<text x="346.6" y="143" fill="#000080" font-size="10.6" font-family='"Liberation Sans", sans-serif'>C10</text>
<text x="297.6" y="153.6" fill="#FF0000" font-size="10.8" font-family='"Liberation Sans", sans-serif'>100nF</text>
<text x="365" y="91.2" fill="#800000" font-size="10.8" font-family='"Liberation Sans", sans-serif'>IBUS</text>
<polyline points="378.06,107.08 427.34,107.08" stroke="#000080" stroke-width="1.4" fill="none" stroke-linejoin="miter"/>
<text x="377.4" y="104.98" fill="#800000" font-size="10.8" font-family='"Liberation Sans", sans-serif'>VSENU</text>
<polyline points="378.06,119.38 427.34,119.38" stroke="#000080" stroke-width="1.4" fill="none" stroke-linejoin="miter"/>
<text x="377.4" y="117.28" fill="#800000" font-size="10.8" font-family='"Liberation Sans", sans-serif'>VSENV</text>
<polyline points="378.06,131.67 427.34,131.67" stroke="#000080" stroke-width="1.4" fill="none" stroke-linejoin="miter"/>
<text x="377.4" y="129.57" fill="#800000" font-size="10.8" font-family='"Liberation Sans", sans-serif'>VSENW</text>
<polyline points="378.06,180.86 378.06,242.34" stroke="#000080" stroke-width="1.4" fill="none" stroke-linejoin="miter"/>
<polyline points="378.06,180.86 427.34,180.86" stroke="#000080" stroke-width="1.4" fill="none" stroke-linejoin="miter"/>
<polyline points="378.06,193.15 427.34,193.15" stroke="#000080" stroke-width="1.4" fill="none" stroke-linejoin="miter"/>
<polyline points="378.06,205.45 427.34,205.45" stroke="#000080" stroke-width="1.4" fill="none" stroke-linejoin="miter"/>
<polyline points="378.06,217.74 427.34,217.74" stroke="#000080" stroke-width="1.4" fill="none" stroke-linejoin="miter"/>
<polyline points="378.06,230.04 427.34,230.04" stroke="#000080" stroke-width="1.4" fill="none" stroke-linejoin="miter"/>
<polyline points="378.06,242.34 427.34,242.34" stroke="#000080" stroke-width="1.4" fill="none" stroke-linejoin="miter"/>
<line x1="365.74" y1="242.34" x2="378.06" y2="242.34" stroke="#800000" stroke-width="1.5" stroke-linecap="butt"/>
<line x1="365.74" y1="229.84" x2="365.74" y2="254.84" stroke="#800000" stroke-width="1.5" stroke-linecap="butt"/>
<line x1="362.04" y1="233.34" x2="362.04" y2="251.34" stroke="#800000" stroke-width="1.5" stroke-linecap="butt"/>
<line x1="358.34" y1="236.84" x2="358.34" y2="247.84" stroke="#800000" stroke-width="1.5" stroke-linecap="butt"/>
<line x1="354.64" y1="240.74" x2="354.64" y2="243.94" stroke="#800000" stroke-width="1.5" stroke-linecap="butt"/>
<text x="350.24" y="246.14" fill="#800000" font-size="11" font-family='"Liberation Serif", serif' text-anchor="end" textLength="23.4" lengthAdjust="spacingAndGlyphs">GND</text>
<polyline points="88.54,297.67 143.96,297.67" stroke="#000080" stroke-width="1.4" fill="none" stroke-linejoin="miter"/>
<line x1="143.96" y1="297.67" x2="149.96" y2="297.67" stroke="#202020" stroke-width="1.5" stroke-linecap="butt"/>
<line x1="174.96" y1="297.67" x2="180.96" y2="297.67" stroke="#202020" stroke-width="1.5" stroke-linecap="butt"/>
<line x1="149.96" y1="297.67" x2="154.86" y2="297.67" stroke="#000080" stroke-width="1.5" stroke-linecap="butt"/>
<line x1="170.06" y1="297.67" x2="174.96" y2="297.67" stroke="#000080" stroke-width="1.5" stroke-linecap="butt"/>
<polyline points="154.86,297.67 155.96,294.67 158.56,300.67 161.16,294.67 163.76,300.67 166.36,294.67 168.96,300.67 170.06,297.67" stroke="#0000FF" stroke-width="1.3" fill="none" stroke-linejoin="miter"/>
<polyline points="180.96,297.67 427.34,297.67" stroke="#000080" stroke-width="1.4" fill="none" stroke-linejoin="miter"/>
<text x="88.4" y="294.9" fill="#800000" font-size="11" font-family='"Liberation Serif", serif'>GND</text>
<text x="131.3" y="296.1" fill="#000080" font-size="10.6" font-family='"Liberation Sans", sans-serif'>R27</text>
<text x="156.6" y="289.5" fill="#FF0000" font-size="10.8" font-family='"Liberation Sans", sans-serif'>1KΩ</text>
<polyline points="217.9,297.67 217.9,266.93 242.52,266.93" stroke="#000080" stroke-width="1.4" fill="none" stroke-linejoin="miter"/>
<line x1="242.52" y1="266.93" x2="248.52" y2="266.93" stroke="#202020" stroke-width="1.5" stroke-linecap="butt"/>
<line x1="273.52" y1="266.93" x2="279.52" y2="266.93" stroke="#202020" stroke-width="1.5" stroke-linecap="butt"/>
<line x1="248.52" y1="266.93" x2="253.42" y2="266.93" stroke="#000080" stroke-width="1.5" stroke-linecap="butt"/>
<line x1="268.62" y1="266.93" x2="273.52" y2="266.93" stroke="#000080" stroke-width="1.5" stroke-linecap="butt"/>
<polyline points="253.42,266.93 254.52,263.93 257.12,269.93 259.72,263.93 262.32,269.93 264.92,263.93 267.52,269.93 268.62,266.93" stroke="#0000FF" stroke-width="1.3" fill="none" stroke-linejoin="miter"/>
<polyline points="279.52,266.93 310.3,266.93 310.3,285.37" stroke="#000080" stroke-width="1.4" fill="none" stroke-linejoin="miter"/>
<polyline points="217.9,285.37 242.52,285.37" stroke="#000080" stroke-width="1.4" fill="none" stroke-linejoin="miter"/>
<line x1="242.52" y1="285.37" x2="248.52" y2="285.37" stroke="#202020" stroke-width="1.5" stroke-linecap="butt"/>
<line x1="273.52" y1="285.37" x2="279.52" y2="285.37" stroke="#202020" stroke-width="1.5" stroke-linecap="butt"/>
<line x1="248.52" y1="285.37" x2="253.42" y2="285.37" stroke="#000080" stroke-width="1.5" stroke-linecap="butt"/>
<line x1="268.62" y1="285.37" x2="273.52" y2="285.37" stroke="#000080" stroke-width="1.5" stroke-linecap="butt"/>
<polyline points="253.42,285.37 254.52,282.37 257.12,288.37 259.72,282.37 262.32,288.37 264.92,282.37 267.52,288.37 268.62,285.37" stroke="#0000FF" stroke-width="1.3" fill="none" stroke-linejoin="miter"/>
<polyline points="279.52,285.37 427.34,285.37" stroke="#000080" stroke-width="1.4" fill="none" stroke-linejoin="miter"/>
<text x="230.5" y="265.4" fill="#000080" font-size="10.6" font-family='"Liberation Sans", sans-serif'>R25</text>
<text x="272.8" y="276.3" fill="#FF0000" font-size="10.8" font-family='"Liberation Sans", sans-serif'>30KΩ</text>
<text x="230.5" y="283.9" fill="#000080" font-size="10.6" font-family='"Liberation Sans", sans-serif'>R26</text>
<text x="272.8" y="295.2" fill="#FF0000" font-size="10.8" font-family='"Liberation Sans", sans-serif'>30KΩ</text>
<text x="377" y="283.5" fill="#800000" font-size="10.8" font-family='"Liberation Sans", sans-serif'>OP1OUT</text>
<text x="377" y="295.6" fill="#800000" font-size="10.8" font-family='"Liberation Sans", sans-serif'>OP1N</text>
<text x="377" y="308" fill="#800000" font-size="10.8" font-family='"Liberation Sans", sans-serif'>OP1P</text>
<polyline points="113.18,297.67 113.18,316.11 150.16,316.11" stroke="#000080" stroke-width="1.4" fill="none" stroke-linejoin="miter"/>
<line x1="150.16" y1="316.11" x2="160.06" y2="316.11" stroke="#202020" stroke-width="1.5" stroke-linecap="butt"/>
<line x1="164.86" y1="316.11" x2="174.76" y2="316.11" stroke="#202020" stroke-width="1.5" stroke-linecap="butt"/>
<line x1="160.06" y1="305.91" x2="160.06" y2="326.31" stroke="#0000FF" stroke-width="1.6" stroke-linecap="butt"/>
<line x1="164.86" y1="305.91" x2="164.86" y2="326.31" stroke="#0000FF" stroke-width="1.6" stroke-linecap="butt"/>
<polyline points="174.76,316.11 217.9,316.11 217.9,365.3" stroke="#000080" stroke-width="1.4" fill="none" stroke-linejoin="miter"/>
<text x="131.3" y="314.2" fill="#000080" font-size="10.6" font-family='"Liberation Sans", sans-serif'>C14</text>
<text x="168.9" y="326" fill="#FF0000" font-size="10.8" font-family='"Liberation Sans", sans-serif'>100pF</text>
<polyline points="88.54,334.56 143.96,334.56" stroke="#000080" stroke-width="1.4" fill="none" stroke-linejoin="miter"/>
<line x1="143.96" y1="334.56" x2="149.96" y2="334.56" stroke="#202020" stroke-width="1.5" stroke-linecap="butt"/>
<line x1="174.96" y1="334.56" x2="180.96" y2="334.56" stroke="#202020" stroke-width="1.5" stroke-linecap="butt"/>
<line x1="149.96" y1="334.56" x2="154.86" y2="334.56" stroke="#000080" stroke-width="1.5" stroke-linecap="butt"/>
<line x1="170.06" y1="334.56" x2="174.96" y2="334.56" stroke="#000080" stroke-width="1.5" stroke-linecap="butt"/>
<polyline points="154.86,334.56 155.96,331.56 158.56,337.56 161.16,331.56 163.76,337.56 166.36,331.56 168.96,337.56 170.06,334.56" stroke="#0000FF" stroke-width="1.3" fill="none" stroke-linejoin="miter"/>
<polyline points="180.96,334.56 310.3,334.56 310.3,309.96 427.34,309.96" stroke="#000080" stroke-width="1.4" fill="none" stroke-linejoin="miter"/>
<text x="88.4" y="331.3" fill="#800000" font-size="11" font-family='"Liberation Serif", serif'>R+</text>
<text x="131.3" y="332.9" fill="#000080" font-size="10.6" font-family='"Liberation Sans", sans-serif'>R29</text>
<text x="156.6" y="350.2" fill="#FF0000" font-size="10.8" font-family='"Liberation Sans", sans-serif'>1KΩ</text>
<line x1="143.98" y1="365.3" x2="156.3" y2="365.3" stroke="#800000" stroke-width="1.5" stroke-linecap="butt"/>
<line x1="143.98" y1="352.8" x2="143.98" y2="377.8" stroke="#800000" stroke-width="1.5" stroke-linecap="butt"/>
<line x1="140.28" y1="356.3" x2="140.28" y2="374.3" stroke="#800000" stroke-width="1.5" stroke-linecap="butt"/>
<line x1="136.58" y1="359.8" x2="136.58" y2="370.8" stroke="#800000" stroke-width="1.5" stroke-linecap="butt"/>
<line x1="132.88" y1="363.7" x2="132.88" y2="366.9" stroke="#800000" stroke-width="1.5" stroke-linecap="butt"/>
<text x="128.48" y="369.1" fill="#800000" font-size="11" font-family='"Liberation Serif", serif' text-anchor="end" textLength="23.4" lengthAdjust="spacingAndGlyphs">GND</text>
<polyline points="156.3,365.3 168.6,365.3" stroke="#000080" stroke-width="1.4" fill="none" stroke-linejoin="miter"/>
<line x1="168.6" y1="365.3" x2="174.6" y2="365.3" stroke="#202020" stroke-width="1.5" stroke-linecap="butt"/>
<line x1="199.6" y1="365.3" x2="205.6" y2="365.3" stroke="#202020" stroke-width="1.5" stroke-linecap="butt"/>
<line x1="174.6" y1="365.3" x2="179.5" y2="365.3" stroke="#000080" stroke-width="1.5" stroke-linecap="butt"/>
<line x1="194.7" y1="365.3" x2="199.6" y2="365.3" stroke="#000080" stroke-width="1.5" stroke-linecap="butt"/>
<polyline points="179.5,365.3 180.6,362.3 183.2,368.3 185.8,362.3 188.4,368.3 191,362.3 193.6,368.3 194.7,365.3" stroke="#0000FF" stroke-width="1.3" fill="none" stroke-linejoin="miter"/>
<polyline points="205.6,365.3 242.52,365.3" stroke="#000080" stroke-width="1.4" fill="none" stroke-linejoin="miter"/>
<line x1="242.52" y1="365.3" x2="248.52" y2="365.3" stroke="#202020" stroke-width="1.5" stroke-linecap="butt"/>
<line x1="273.52" y1="365.3" x2="279.52" y2="365.3" stroke="#202020" stroke-width="1.5" stroke-linecap="butt"/>
<line x1="248.52" y1="365.3" x2="253.42" y2="365.3" stroke="#000080" stroke-width="1.5" stroke-linecap="butt"/>
<line x1="268.62" y1="365.3" x2="273.52" y2="365.3" stroke="#000080" stroke-width="1.5" stroke-linecap="butt"/>
<polyline points="253.42,365.3 254.52,362.3 257.12,368.3 259.72,362.3 262.32,368.3 264.92,362.3 267.52,368.3 268.62,365.3" stroke="#0000FF" stroke-width="1.3" fill="none" stroke-linejoin="miter"/>
<polyline points="279.52,365.3 291.82,365.3" stroke="#000080" stroke-width="1.4" fill="none" stroke-linejoin="miter"/>
<line x1="291.82" y1="365.3" x2="304.14" y2="365.3" stroke="#800000" stroke-width="1.5" stroke-linecap="butt"/>
<line x1="304.14" y1="359" x2="304.14" y2="371.6" stroke="#800000" stroke-width="1.5" stroke-linecap="butt"/>
<text x="306.5" y="369.3" fill="#800000" font-size="10.8" font-family='"Liberation Sans", sans-serif'>VCCA</text>
<text x="156.6" y="363.6" fill="#000080" font-size="10.6" font-family='"Liberation Sans", sans-serif'>R32</text>
<text x="174.3" y="381" fill="#FF0000" font-size="10.8" font-family='"Liberation Sans", sans-serif'>30KΩ</text>
<text x="230.5" y="363.5" fill="#000080" font-size="10.6" font-family='"Liberation Sans", sans-serif'>R34</text>
<text x="248.4" y="381.6" fill="#FF0000" font-size="10.8" font-family='"Liberation Sans", sans-serif'>30KΩ</text>
<polyline points="353.42,377.59 427.34,377.59" stroke="#000080" stroke-width="1.4" fill="none" stroke-linejoin="miter"/>
<polyline points="353.42,377.59 353.42,383.74" stroke="#000080" stroke-width="1.4" fill="none" stroke-linejoin="miter"/>
<line x1="353.42" y1="383.68" x2="353.42" y2="389.68" stroke="#202020" stroke-width="1.5" stroke-linecap="butt"/>
<line x1="353.42" y1="414.68" x2="353.42" y2="420.68" stroke="#202020" stroke-width="1.5" stroke-linecap="butt"/>
<line x1="353.42" y1="389.68" x2="353.42" y2="394.58" stroke="#000080" stroke-width="1.5" stroke-linecap="butt"/>
<line x1="353.42" y1="409.78" x2="353.42" y2="414.68" stroke="#000080" stroke-width="1.5" stroke-linecap="butt"/>
<polyline points="353.42,394.58 350.42,395.68 356.42,398.28 350.42,400.88 356.42,403.48 350.42,406.08 356.42,408.68 353.42,409.78" stroke="#0000FF" stroke-width="1.3" fill="none" stroke-linejoin="miter"/>
<polyline points="353.42,420.63 353.42,426.78" stroke="#000080" stroke-width="1.4" fill="none" stroke-linejoin="miter"/>
<line x1="353.42" y1="426.77" x2="353.42" y2="439.07" stroke="#800000" stroke-width="1.5" stroke-linecap="butt"/>
<line x1="340.92" y1="439.07" x2="365.92" y2="439.07" stroke="#800000" stroke-width="1.3" stroke-linecap="butt"/>
<line x1="344.42" y1="442.82" x2="362.42" y2="442.82" stroke="#800000" stroke-width="1.3" stroke-linecap="butt"/>
<line x1="347.92" y1="446.57" x2="358.92" y2="446.57" stroke="#800000" stroke-width="1.3" stroke-linecap="butt"/>
<line x1="351.42" y1="450.32" x2="355.42" y2="450.32" stroke="#800000" stroke-width="1.3" stroke-linecap="butt"/>
<text x="353.42" y="461.67" fill="#800000" font-size="11" font-family='"Liberation Serif", serif' text-anchor="middle" textLength="23.4" lengthAdjust="spacingAndGlyphs">GND</text>
<text x="356.9" y="399.6" fill="#000080" font-size="10.6" font-family='"Liberation Sans", sans-serif'>R35</text>
<text x="357" y="411" fill="#FF0000" font-size="10.8" font-family='"Liberation Sans", sans-serif'>2KΩ</text>
<text x="390.4" y="375.3" fill="#800000" font-size="10.8" font-family='"Liberation Sans", sans-serif'>TRSTn</text>
<polyline points="390.38,389.89 427.34,389.89" stroke="#000080" stroke-width="1.4" fill="none" stroke-linejoin="miter"/>
<text x="390.4" y="387.59" fill="#800000" font-size="10.8" font-family='"Liberation Sans", sans-serif'>TMS</text>
<polyline points="390.38,402.18 427.34,402.18" stroke="#000080" stroke-width="1.4" fill="none" stroke-linejoin="miter"/>
<text x="390.4" y="399.88" fill="#800000" font-size="10.8" font-family='"Liberation Sans", sans-serif'>TDO</text>
<polyline points="390.38,414.48 427.34,414.48" stroke="#000080" stroke-width="1.4" fill="none" stroke-linejoin="miter"/>
<text x="390.4" y="412.18" fill="#800000" font-size="10.8" font-family='"Liberation Sans", sans-serif'>TDI</text>
<polyline points="390.38,426.78 427.34,426.78" stroke="#000080" stroke-width="1.4" fill="none" stroke-linejoin="miter"/>
<text x="390.4" y="424.48" fill="#800000" font-size="10.8" font-family='"Liberation Sans", sans-serif'>TCK</text>
<line x1="150" y1="457.52" x2="162.6" y2="457.52" stroke="#800000" stroke-width="1.5" stroke-linecap="butt"/>
<line x1="156.3" y1="457.52" x2="156.3" y2="469.81" stroke="#800000" stroke-width="1.5" stroke-linecap="butt"/>
<line x1="156.3" y1="469.76" x2="156.3" y2="475.76" stroke="#202020" stroke-width="1.5" stroke-linecap="butt"/>
<line x1="156.3" y1="500.76" x2="156.3" y2="506.76" stroke="#202020" stroke-width="1.5" stroke-linecap="butt"/>
<line x1="156.3" y1="475.76" x2="156.3" y2="480.66" stroke="#000080" stroke-width="1.5" stroke-linecap="butt"/>
<line x1="156.3" y1="495.86" x2="156.3" y2="500.76" stroke="#000080" stroke-width="1.5" stroke-linecap="butt"/>
<polyline points="156.3,480.66 153.3,481.76 159.3,484.36 153.3,486.96 159.3,489.56 153.3,492.16 159.3,494.76 156.3,495.86" stroke="#0000FF" stroke-width="1.3" fill="none" stroke-linejoin="miter"/>
<polyline points="156.3,506.7 156.3,525.14" stroke="#000080" stroke-width="1.4" fill="none" stroke-linejoin="miter"/>
<line x1="156.3" y1="525.09" x2="156.3" y2="531.09" stroke="#202020" stroke-width="1.5" stroke-linecap="butt"/>
<line x1="156.3" y1="556.09" x2="156.3" y2="562.09" stroke="#202020" stroke-width="1.5" stroke-linecap="butt"/>
<line x1="156.3" y1="531.09" x2="156.3" y2="535.99" stroke="#000080" stroke-width="1.5" stroke-linecap="butt"/>
<line x1="156.3" y1="551.19" x2="156.3" y2="556.09" stroke="#000080" stroke-width="1.5" stroke-linecap="butt"/>
<polyline points="156.3,535.99 153.3,537.09 159.3,539.69 153.3,542.29 159.3,544.89 153.3,547.49 159.3,550.09 156.3,551.19" stroke="#0000FF" stroke-width="1.3" fill="none" stroke-linejoin="miter"/>
<polyline points="156.3,562.03 156.3,562.03" stroke="#000080" stroke-width="1.4" fill="none" stroke-linejoin="miter"/>
<line x1="156.3" y1="562.03" x2="156.3" y2="574.33" stroke="#800000" stroke-width="1.5" stroke-linecap="butt"/>
<line x1="143.8" y1="574.33" x2="168.8" y2="574.33" stroke="#800000" stroke-width="1.3" stroke-linecap="butt"/>
<line x1="147.3" y1="578.08" x2="165.3" y2="578.08" stroke="#800000" stroke-width="1.3" stroke-linecap="butt"/>
<line x1="150.8" y1="581.83" x2="161.8" y2="581.83" stroke="#800000" stroke-width="1.3" stroke-linecap="butt"/>
<line x1="154.3" y1="585.58" x2="158.3" y2="585.58" stroke="#800000" stroke-width="1.3" stroke-linecap="butt"/>
<text x="156.3" y="596.93" fill="#800000" font-size="11" font-family='"Liberation Serif", serif' text-anchor="middle" textLength="23.4" lengthAdjust="spacingAndGlyphs">GND</text>
<polyline points="156.3,519 211.74,519" stroke="#000080" stroke-width="1.4" fill="none" stroke-linejoin="miter"/>
<text x="155.8" y="455.6" fill="#800000" font-size="10.8" font-family='"Liberation Sans", sans-serif' text-anchor="middle">VDD5V</text>
<text x="174.5" y="517" fill="#800000" font-size="11" font-family='"Liberation Serif", serif'>VDD1V2</text>
<text x="160.3" y="485.8" fill="#000080" font-size="10.6" font-family='"Liberation Sans", sans-serif'>R39</text>
<text x="160.7" y="496.8" fill="#FF0000" font-size="10.8" font-family='"Liberation Sans", sans-serif'>1.8KΩ</text>
<text x="160.3" y="540.3" fill="#000080" font-size="10.6" font-family='"Liberation Sans", sans-serif'>R40</text>
<text x="160.5" y="551.3" fill="#FF0000" font-size="10.8" font-family='"Liberation Sans", sans-serif'>560Ω</text>
<line x1="260.88" y1="469.81" x2="273.48" y2="469.81" stroke="#800000" stroke-width="1.5" stroke-linecap="butt"/>
<line x1="267.18" y1="469.81" x2="267.18" y2="482.11" stroke="#800000" stroke-width="1.5" stroke-linecap="butt"/>
<polyline points="267.18,482.11 427.34,482.11" stroke="#000080" stroke-width="1.4" fill="none" stroke-linejoin="miter"/>
<polyline points="402.7,482.11 402.7,500.55 427.34,500.55" stroke="#000080" stroke-width="1.4" fill="none" stroke-linejoin="miter"/>
<polyline points="267.18,482.11 267.18,494.4" stroke="#000080" stroke-width="1.4" fill="none" stroke-linejoin="miter"/>
<line x1="267.18" y1="494.4" x2="267.18" y2="504.1" stroke="#202020" stroke-width="1.5" stroke-linecap="butt"/>
<line x1="267.18" y1="509.3" x2="267.18" y2="519" stroke="#202020" stroke-width="1.5" stroke-linecap="butt"/>
<line x1="256.98" y1="504.1" x2="277.38" y2="504.1" stroke="#0000FF" stroke-width="1.6" stroke-linecap="butt"/>
<line x1="256.98" y1="509.3" x2="277.38" y2="509.3" stroke="#0000FF" stroke-width="1.6" stroke-linecap="butt"/>
<polyline points="267.18,519 267.18,531.29" stroke="#000080" stroke-width="1.4" fill="none" stroke-linejoin="miter"/>
<polyline points="316.46,482.11 316.46,494.4" stroke="#000080" stroke-width="1.4" fill="none" stroke-linejoin="miter"/>
<line x1="316.46" y1="494.4" x2="316.46" y2="504.1" stroke="#202020" stroke-width="1.5" stroke-linecap="butt"/>
<line x1="316.46" y1="509.3" x2="316.46" y2="519" stroke="#202020" stroke-width="1.5" stroke-linecap="butt"/>
<line x1="306.26" y1="504.1" x2="326.66" y2="504.1" stroke="#0000FF" stroke-width="1.6" stroke-linecap="butt"/>
<line x1="306.26" y1="509.3" x2="326.66" y2="509.3" stroke="#0000FF" stroke-width="1.6" stroke-linecap="butt"/>
<polyline points="316.46,519 316.46,531.29" stroke="#000080" stroke-width="1.4" fill="none" stroke-linejoin="miter"/>
<line x1="254.86" y1="531.29" x2="267.18" y2="531.29" stroke="#800000" stroke-width="1.5" stroke-linecap="butt"/>
<line x1="254.86" y1="518.79" x2="254.86" y2="543.79" stroke="#800000" stroke-width="1.5" stroke-linecap="butt"/>
<line x1="251.16" y1="522.29" x2="251.16" y2="540.29" stroke="#800000" stroke-width="1.5" stroke-linecap="butt"/>
<line x1="247.46" y1="525.79" x2="247.46" y2="536.79" stroke="#800000" stroke-width="1.5" stroke-linecap="butt"/>
<line x1="243.76" y1="529.69" x2="243.76" y2="532.89" stroke="#800000" stroke-width="1.5" stroke-linecap="butt"/>
<text x="239.36" y="535.09" fill="#800000" font-size="11" font-family='"Liberation Serif", serif' text-anchor="end" textLength="23.4" lengthAdjust="spacingAndGlyphs">GND</text>
<polyline points="267.18,531.29 359.6,531.29" stroke="#000080" stroke-width="1.4" fill="none" stroke-linejoin="miter"/>
<line x1="359.6" y1="531.29" x2="369.5" y2="531.29" stroke="#202020" stroke-width="1.5" stroke-linecap="butt"/>
<line x1="374.3" y1="531.29" x2="384.2" y2="531.29" stroke="#202020" stroke-width="1.5" stroke-linecap="butt"/>
<line x1="369.5" y1="521.09" x2="369.5" y2="541.49" stroke="#0000FF" stroke-width="1.6" stroke-linecap="butt"/>
<line x1="374.3" y1="521.09" x2="374.3" y2="541.49" stroke="#0000FF" stroke-width="1.6" stroke-linecap="butt"/>
<polyline points="384.2,531.29 427.34,531.29" stroke="#000080" stroke-width="1.4" fill="none" stroke-linejoin="miter"/>
<text x="267.2" y="468" fill="#800000" font-size="10.8" font-family='"Liberation Sans", sans-serif' text-anchor="middle">VDD5V</text>
<text x="279.5" y="511.5" fill="#000080" font-size="10.6" font-family='"Liberation Sans", sans-serif'>C16</text>
<text x="273.7" y="522.3" fill="#FF0000" font-size="10.8" font-family='"Liberation Sans", sans-serif'>100nF</text>
<text x="328.7" y="511.5" fill="#000080" font-size="10.6" font-family='"Liberation Sans", sans-serif'>C17</text>
<text x="322.5" y="522.3" fill="#FF0000" font-size="10.8" font-family='"Liberation Sans", sans-serif'>100nF</text>
<text x="364.4" y="518.2" fill="#000080" font-size="10.6" font-family='"Liberation Sans", sans-serif'>C18</text>
<text x="383.8" y="541.5" fill="#FF0000" font-size="10.8" font-family='"Liberation Sans", sans-serif'>2.2uF</text>
<text x="383.8" y="528.5" fill="#800000" font-size="11" font-family='"Liberation Serif", serif'>VDD1V2</text>
<line x1="304.14" y1="549.58" x2="304.14" y2="562.18" stroke="#800000" stroke-width="1.5" stroke-linecap="butt"/>
<line x1="304.14" y1="555.88" x2="316.46" y2="555.88" stroke="#800000" stroke-width="1.5" stroke-linecap="butt"/>
<polyline points="316.46,555.88 427.34,555.88" stroke="#000080" stroke-width="1.4" fill="none" stroke-linejoin="miter"/>
<line x1="304.14" y1="580.48" x2="316.46" y2="580.48" stroke="#800000" stroke-width="1.5" stroke-linecap="butt"/>
<line x1="304.14" y1="567.98" x2="304.14" y2="592.98" stroke="#800000" stroke-width="1.5" stroke-linecap="butt"/>
<line x1="300.44" y1="571.48" x2="300.44" y2="589.48" stroke="#800000" stroke-width="1.5" stroke-linecap="butt"/>
<line x1="296.74" y1="574.98" x2="296.74" y2="585.98" stroke="#800000" stroke-width="1.5" stroke-linecap="butt"/>
<line x1="293.04" y1="578.88" x2="293.04" y2="582.08" stroke="#800000" stroke-width="1.5" stroke-linecap="butt"/>
<text x="288.64" y="584.28" fill="#800000" font-size="11" font-family='"Liberation Serif", serif' text-anchor="end" textLength="23.4" lengthAdjust="spacingAndGlyphs">GND</text>
<polyline points="316.46,580.48 427.34,580.48" stroke="#000080" stroke-width="1.4" fill="none" stroke-linejoin="miter"/>
<line x1="341.1" y1="555.88" x2="341.1" y2="565.58" stroke="#202020" stroke-width="1.5" stroke-linecap="butt"/>
<line x1="341.1" y1="570.78" x2="341.1" y2="580.48" stroke="#202020" stroke-width="1.5" stroke-linecap="butt"/>
<line x1="330.9" y1="565.58" x2="351.3" y2="565.58" stroke="#0000FF" stroke-width="1.6" stroke-linecap="butt"/>
<line x1="330.9" y1="570.78" x2="351.3" y2="570.78" stroke="#0000FF" stroke-width="1.6" stroke-linecap="butt"/>
<line x1="378.06" y1="555.88" x2="378.06" y2="565.58" stroke="#202020" stroke-width="1.5" stroke-linecap="butt"/>
<line x1="378.06" y1="570.78" x2="378.06" y2="580.48" stroke="#202020" stroke-width="1.5" stroke-linecap="butt"/>
<line x1="367.86" y1="565.58" x2="388.26" y2="565.58" stroke="#0000FF" stroke-width="1.6" stroke-linecap="butt"/>
<line x1="367.86" y1="570.78" x2="388.26" y2="570.78" stroke="#0000FF" stroke-width="1.6" stroke-linecap="butt"/>
<text x="300.2" y="559.7" fill="#800000" font-size="10.8" font-family='"Liberation Sans", sans-serif' text-anchor="end">VDD5V</text>
<text x="330.3" y="572.8" fill="#000080" font-size="10.6" font-family='"Liberation Sans", sans-serif' text-anchor="end">C19</text>
<text x="390" y="572.8" fill="#000080" font-size="10.6" font-family='"Liberation Sans", sans-serif'>C20</text>
<text x="328.7" y="596.5" fill="#FF0000" font-size="10.8" font-family='"Liberation Sans", sans-serif'>100nF</text>
<text x="365.9" y="596.5" fill="#FF0000" font-size="10.8" font-family='"Liberation Sans", sans-serif'>10uF</text>
<line x1="211.74" y1="598.77" x2="211.74" y2="611.37" stroke="#800000" stroke-width="1.5" stroke-linecap="butt"/>
<line x1="211.74" y1="605.07" x2="224.06" y2="605.07" stroke="#800000" stroke-width="1.5" stroke-linecap="butt"/>
<polyline points="224.06,605.07 242.52,605.07" stroke="#000080" stroke-width="1.4" fill="none" stroke-linejoin="miter"/>
<line x1="242.52" y1="605.07" x2="248.52" y2="605.07" stroke="#202020" stroke-width="1.5" stroke-linecap="butt"/>
<line x1="273.52" y1="605.07" x2="279.52" y2="605.07" stroke="#202020" stroke-width="1.5" stroke-linecap="butt"/>
<line x1="248.52" y1="605.07" x2="253.42" y2="605.07" stroke="#000080" stroke-width="1.5" stroke-linecap="butt"/>
<line x1="268.62" y1="605.07" x2="273.52" y2="605.07" stroke="#000080" stroke-width="1.5" stroke-linecap="butt"/>
<polyline points="253.42,605.07 254.52,602.07 257.12,608.07 259.72,602.07 262.32,608.07 264.92,602.07 267.52,608.07 268.62,605.07" stroke="#0000FF" stroke-width="1.3" fill="none" stroke-linejoin="miter"/>
<polyline points="279.52,605.07 427.34,605.07" stroke="#000080" stroke-width="1.4" fill="none" stroke-linejoin="miter"/>
<polyline points="297.98,605.07 297.98,629.66" stroke="#000080" stroke-width="1.4" fill="none" stroke-linejoin="miter"/>
<line x1="297.98" y1="629.66" x2="297.98" y2="639.36" stroke="#202020" stroke-width="1.5" stroke-linecap="butt"/>
<line x1="297.98" y1="644.56" x2="297.98" y2="654.26" stroke="#202020" stroke-width="1.5" stroke-linecap="butt"/>
<line x1="287.78" y1="639.36" x2="308.18" y2="639.36" stroke="#0000FF" stroke-width="1.6" stroke-linecap="butt"/>
<line x1="287.78" y1="644.56" x2="308.18" y2="644.56" stroke="#0000FF" stroke-width="1.6" stroke-linecap="butt"/>
<polyline points="297.98,654.25 297.98,678.84" stroke="#000080" stroke-width="1.4" fill="none" stroke-linejoin="miter"/>
<line x1="297.98" y1="678.84" x2="297.98" y2="691.14" stroke="#800000" stroke-width="1.5" stroke-linecap="butt"/>
<line x1="285.48" y1="691.14" x2="310.48" y2="691.14" stroke="#800000" stroke-width="1.3" stroke-linecap="butt"/>
<line x1="288.98" y1="694.89" x2="306.98" y2="694.89" stroke="#800000" stroke-width="1.3" stroke-linecap="butt"/>
<line x1="292.48" y1="698.64" x2="303.48" y2="698.64" stroke="#800000" stroke-width="1.3" stroke-linecap="butt"/>
<line x1="295.98" y1="702.39" x2="299.98" y2="702.39" stroke="#800000" stroke-width="1.3" stroke-linecap="butt"/>
<text x="297.98" y="713.74" fill="#800000" font-size="11" font-family='"Liberation Serif", serif' text-anchor="middle" textLength="23.4" lengthAdjust="spacingAndGlyphs">GND</text>
<text x="208.6" y="609.2" fill="#800000" font-size="10.8" font-family='"Liberation Sans", sans-serif' text-anchor="end">VM</text>
<text x="236.7" y="597.3" fill="#000080" font-size="10.6" font-family='"Liberation Sans", sans-serif'>R38</text>
<text x="273" y="602" fill="#FF0000" font-size="10.8" font-family='"Liberation Sans", sans-serif'>0R</text>
<text x="286" y="646.6" fill="#000080" font-size="10.6" font-family='"Liberation Sans", sans-serif' text-anchor="end">C21</text>
<text x="267.7" y="664.2" fill="#FF0000" font-size="10.8" font-family='"Liberation Sans", sans-serif'>10uF</text>
<line x1="340.96" y1="629.66" x2="353.56" y2="629.66" stroke="#800000" stroke-width="1.5" stroke-linecap="butt"/>
<line x1="347.26" y1="629.66" x2="347.26" y2="641.96" stroke="#800000" stroke-width="1.5" stroke-linecap="butt"/>
<polyline points="347.26,641.96 427.34,641.96" stroke="#000080" stroke-width="1.4" fill="none" stroke-linejoin="miter"/>
<polyline points="347.26,641.96 347.26,648.1" stroke="#000080" stroke-width="1.4" fill="none" stroke-linejoin="miter"/>
<line x1="347.26" y1="648.1" x2="347.26" y2="657.8" stroke="#202020" stroke-width="1.5" stroke-linecap="butt"/>
<line x1="347.26" y1="663" x2="347.26" y2="672.7" stroke="#202020" stroke-width="1.5" stroke-linecap="butt"/>
<line x1="337.06" y1="657.8" x2="357.46" y2="657.8" stroke="#0000FF" stroke-width="1.6" stroke-linecap="butt"/>
<line x1="337.06" y1="663" x2="357.46" y2="663" stroke="#0000FF" stroke-width="1.6" stroke-linecap="butt"/>
<polyline points="347.26,672.7 347.26,678.84" stroke="#000080" stroke-width="1.4" fill="none" stroke-linejoin="miter"/>
<polyline points="378.06,641.96 378.06,648.1" stroke="#000080" stroke-width="1.4" fill="none" stroke-linejoin="miter"/>
<line x1="378.06" y1="648.1" x2="378.06" y2="657.8" stroke="#202020" stroke-width="1.5" stroke-linecap="butt"/>
<line x1="378.06" y1="663" x2="378.06" y2="672.7" stroke="#202020" stroke-width="1.5" stroke-linecap="butt"/>
<line x1="367.86" y1="657.8" x2="388.26" y2="657.8" stroke="#0000FF" stroke-width="1.6" stroke-linecap="butt"/>
<line x1="367.86" y1="663" x2="388.26" y2="663" stroke="#0000FF" stroke-width="1.6" stroke-linecap="butt"/>
<polyline points="378.06,672.7 378.06,678.84" stroke="#000080" stroke-width="1.4" fill="none" stroke-linejoin="miter"/>
<polyline points="347.26,678.84 427.34,678.84" stroke="#000080" stroke-width="1.4" fill="none" stroke-linejoin="miter"/>
<polyline points="427.34,678.84 427.34,660.4 427.34,660.4" stroke="#000080" stroke-width="1.4" fill="none" stroke-linejoin="miter"/>
<line x1="378.06" y1="678.84" x2="378.06" y2="691.14" stroke="#800000" stroke-width="1.5" stroke-linecap="butt"/>
<line x1="365.56" y1="691.14" x2="390.56" y2="691.14" stroke="#800000" stroke-width="1.3" stroke-linecap="butt"/>
<line x1="369.06" y1="694.89" x2="387.06" y2="694.89" stroke="#800000" stroke-width="1.3" stroke-linecap="butt"/>
<line x1="372.56" y1="698.64" x2="383.56" y2="698.64" stroke="#800000" stroke-width="1.3" stroke-linecap="butt"/>
<line x1="376.06" y1="702.39" x2="380.06" y2="702.39" stroke="#800000" stroke-width="1.3" stroke-linecap="butt"/>
<text x="378.06" y="713.74" fill="#800000" font-size="11" font-family='"Liberation Serif", serif' text-anchor="middle" textLength="23.4" lengthAdjust="spacingAndGlyphs">GND</text>
<text x="347.3" y="627.9" fill="#800000" font-size="10.8" font-family='"Liberation Sans", sans-serif' text-anchor="middle">VCCA</text>
<text x="341.9" y="652.2" fill="#000080" font-size="10.6" font-family='"Liberation Sans", sans-serif' text-anchor="end">C23</text>
<text x="336.5" y="675.7" fill="#FF0000" font-size="10.8" font-family='"Liberation Sans", sans-serif' text-anchor="end">2.2uF</text>
<text x="390" y="652.2" fill="#000080" font-size="10.6" font-family='"Liberation Sans", sans-serif'>C24</text>
<text x="384.6" y="675.7" fill="#FF0000" font-size="10.8" font-family='"Liberation Sans", sans-serif'>100nF</text>
<polyline points="747.66,45.6 801.5,45.6" stroke="#000080" stroke-width="1.4" fill="none" stroke-linejoin="miter"/>
<text x="763" y="43.2" fill="#800000" font-size="10.8" font-family='"Liberation Sans", sans-serif'>VBW</text>
<polyline points="747.66,57.9 801.5,57.9" stroke="#000080" stroke-width="1.4" fill="none" stroke-linejoin="miter"/>
<text x="763" y="55.5" fill="#800000" font-size="10.8" font-family='"Liberation Sans", sans-serif'>HOW</text>
<polyline points="747.66,70.19 801.5,70.19" stroke="#000080" stroke-width="1.4" fill="none" stroke-linejoin="miter"/>
<text x="763" y="67.79" fill="#800000" font-size="10.8" font-family='"Liberation Sans", sans-serif'>W</text>
<polyline points="747.66,88.64 801.5,88.64" stroke="#000080" stroke-width="1.4" fill="none" stroke-linejoin="miter"/>
<text x="763" y="86.24" fill="#800000" font-size="10.8" font-family='"Liberation Sans", sans-serif'>VBV</text>
<polyline points="747.66,100.93 801.5,100.93" stroke="#000080" stroke-width="1.4" fill="none" stroke-linejoin="miter"/>
<text x="763" y="98.53" fill="#800000" font-size="10.8" font-family='"Liberation Sans", sans-serif'>HOV</text>
<polyline points="747.66,113.23 801.5,113.23" stroke="#000080" stroke-width="1.4" fill="none" stroke-linejoin="miter"/>
<text x="763" y="110.83" fill="#800000" font-size="10.8" font-family='"Liberation Sans", sans-serif'>V</text>
<polyline points="747.66,137.82 801.5,137.82" stroke="#000080" stroke-width="1.4" fill="none" stroke-linejoin="miter"/>
<text x="763" y="135.42" fill="#800000" font-size="10.8" font-family='"Liberation Sans", sans-serif'>VBU</text>
<polyline points="747.66,150.12 801.5,150.12" stroke="#000080" stroke-width="1.4" fill="none" stroke-linejoin="miter"/>
<text x="763" y="147.72" fill="#800000" font-size="10.8" font-family='"Liberation Sans", sans-serif'>HOU</text>
<polyline points="747.66,162.41 801.5,162.41" stroke="#000080" stroke-width="1.4" fill="none" stroke-linejoin="miter"/>
<text x="763" y="160.01" fill="#800000" font-size="10.8" font-family='"Liberation Sans", sans-serif'>U</text>
<polyline points="747.66,180.86 801.5,180.86" stroke="#000080" stroke-width="1.4" fill="none" stroke-linejoin="miter"/>
<text x="763" y="178.46" fill="#800000" font-size="10.8" font-family='"Liberation Sans", sans-serif'>LOW</text>
<polyline points="747.66,193.15 801.5,193.15" stroke="#000080" stroke-width="1.4" fill="none" stroke-linejoin="miter"/>
<text x="763" y="190.75" fill="#800000" font-size="10.8" font-family='"Liberation Sans", sans-serif'>LOV</text>
<polyline points="747.66,205.45 801.5,205.45" stroke="#000080" stroke-width="1.4" fill="none" stroke-linejoin="miter"/>
<text x="763" y="203.05" fill="#800000" font-size="10.8" font-family='"Liberation Sans", sans-serif'>LOU</text>
<polyline points="747.66,236.19 821.58,236.19" stroke="#000080" stroke-width="1.4" fill="none" stroke-linejoin="miter"/>
<polyline points="747.66,260.78 821.58,260.78" stroke="#000080" stroke-width="1.4" fill="none" stroke-linejoin="miter"/>
<line x1="772.3" y1="236.18" x2="772.3" y2="245.88" stroke="#202020" stroke-width="1.5" stroke-linecap="butt"/>
<line x1="772.3" y1="251.08" x2="772.3" y2="260.78" stroke="#202020" stroke-width="1.5" stroke-linecap="butt"/>
<line x1="762.1" y1="245.88" x2="782.5" y2="245.88" stroke="#0000FF" stroke-width="1.6" stroke-linecap="butt"/>
<line x1="762.1" y1="251.08" x2="782.5" y2="251.08" stroke="#0000FF" stroke-width="1.6" stroke-linecap="butt"/>
<line x1="821.58" y1="236.18" x2="821.58" y2="245.88" stroke="#202020" stroke-width="1.5" stroke-linecap="butt"/>
<line x1="821.58" y1="251.08" x2="821.58" y2="260.78" stroke="#202020" stroke-width="1.5" stroke-linecap="butt"/>
<line x1="811.38" y1="245.88" x2="831.78" y2="245.88" stroke="#0000FF" stroke-width="1.6" stroke-linecap="butt"/>
<line x1="811.38" y1="251.08" x2="831.78" y2="251.08" stroke="#0000FF" stroke-width="1.6" stroke-linecap="butt"/>
<line x1="821.58" y1="236.19" x2="821.58" y2="223.89" stroke="#800000" stroke-width="1.5" stroke-linecap="butt"/>
<line x1="809.08" y1="223.89" x2="834.08" y2="223.89" stroke="#800000" stroke-width="1.3" stroke-linecap="butt"/>
<line x1="812.58" y1="220.14" x2="830.58" y2="220.14" stroke="#800000" stroke-width="1.3" stroke-linecap="butt"/>
<line x1="816.08" y1="216.39" x2="827.08" y2="216.39" stroke="#800000" stroke-width="1.3" stroke-linecap="butt"/>
<line x1="819.58" y1="212.64" x2="823.58" y2="212.64" stroke="#800000" stroke-width="1.3" stroke-linecap="butt"/>
<text x="821.58" y="208.59" fill="#800000" font-size="11" font-family='"Liberation Serif", serif' text-anchor="middle" textLength="23.4" lengthAdjust="spacingAndGlyphs">GND</text>
<line x1="821.58" y1="260.78" x2="821.58" y2="273.08" stroke="#800000" stroke-width="1.5" stroke-linecap="butt"/>
<line x1="815.28" y1="273.08" x2="827.88" y2="273.08" stroke="#800000" stroke-width="1.5" stroke-linecap="butt"/>
<text x="821" y="283.4" fill="#800000" font-size="10.8" font-family='"Liberation Sans", sans-serif' text-anchor="middle">VDRV</text>
<text x="783" y="251.4" fill="#000080" font-size="10.6" font-family='"Liberation Sans", sans-serif'>C12</text>
<text x="832.2" y="251.4" fill="#000080" font-size="10.6" font-family='"Liberation Sans", sans-serif'>C13</text>
<text x="760.9" y="276" fill="#FF0000" font-size="10.8" font-family='"Liberation Sans", sans-serif'>10uF</text>
<text x="833.7" y="264.5" fill="#FF0000" font-size="10.8" font-family='"Liberation Sans", sans-serif'>100nF</text>
<polyline points="747.66,309.96 858.54,309.96 858.54,309.96" stroke="#000080" stroke-width="1.4" fill="none" stroke-linejoin="miter"/>
<line x1="858.54" y1="309.96" x2="858.54" y2="319.66" stroke="#202020" stroke-width="1.5" stroke-linecap="butt"/>
<line x1="858.54" y1="324.86" x2="858.54" y2="334.56" stroke="#202020" stroke-width="1.5" stroke-linecap="butt"/>
<line x1="848.34" y1="319.66" x2="868.74" y2="319.66" stroke="#0000FF" stroke-width="1.6" stroke-linecap="butt"/>
<line x1="848.34" y1="324.86" x2="868.74" y2="324.86" stroke="#0000FF" stroke-width="1.6" stroke-linecap="butt"/>
<polyline points="858.54,334.56 858.54,340.7" stroke="#000080" stroke-width="1.4" fill="none" stroke-linejoin="miter"/>
<line x1="858.54" y1="340.7" x2="858.54" y2="353" stroke="#800000" stroke-width="1.5" stroke-linecap="butt"/>
<line x1="846.04" y1="353" x2="871.04" y2="353" stroke="#800000" stroke-width="1.3" stroke-linecap="butt"/>
<line x1="849.54" y1="356.75" x2="867.54" y2="356.75" stroke="#800000" stroke-width="1.3" stroke-linecap="butt"/>
<line x1="853.04" y1="360.5" x2="864.04" y2="360.5" stroke="#800000" stroke-width="1.3" stroke-linecap="butt"/>
<line x1="856.54" y1="364.25" x2="860.54" y2="364.25" stroke="#800000" stroke-width="1.3" stroke-linecap="butt"/>
<text x="858.54" y="375.6" fill="#800000" font-size="11" font-family='"Liberation Serif", serif' text-anchor="middle" textLength="23.4" lengthAdjust="spacingAndGlyphs">GND</text>
<text x="753.2" y="307.3" fill="#800000" font-size="11" font-family='"Liberation Serif", serif'>LIN_BUS/PWM-IN</text>
<polyline points="747.66,322.26 790.76,322.26" stroke="#000080" stroke-width="1.4" fill="none" stroke-linejoin="miter"/>
<line x1="790.76" y1="322.26" x2="796.76" y2="322.26" stroke="#202020" stroke-width="1.5" stroke-linecap="butt"/>
<line x1="821.76" y1="322.26" x2="827.76" y2="322.26" stroke="#202020" stroke-width="1.5" stroke-linecap="butt"/>
<line x1="796.76" y1="322.26" x2="801.66" y2="322.26" stroke="#000080" stroke-width="1.5" stroke-linecap="butt"/>
<line x1="816.86" y1="322.26" x2="821.76" y2="322.26" stroke="#000080" stroke-width="1.5" stroke-linecap="butt"/>
<polyline points="801.66,322.26 802.76,319.26 805.36,325.26 807.96,319.26 810.56,325.26 813.16,319.26 815.76,325.26 816.86,322.26" stroke="#0000FF" stroke-width="1.3" fill="none" stroke-linejoin="miter"/>
<polyline points="827.76,322.26 833.9,322.26 833.9,340.7 858.54,340.7" stroke="#000080" stroke-width="1.4" fill="none" stroke-linejoin="miter"/>
<text x="753.2" y="320" fill="#800000" font-size="11" font-family='"Liberation Serif", serif'>LIN_EN</text>
<text x="790.3" y="339.3" fill="#000080" font-size="10.6" font-family='"Liberation Sans", sans-serif'>R30</text>
<text x="790" y="350.6" fill="#FF0000" font-size="10.8" font-family='"Liberation Sans", sans-serif'>2.2KΩ</text>
<text x="869.3" y="325.7" fill="#000080" font-size="10.6" font-family='"Liberation Sans", sans-serif'>C15</text>
<text x="870.7" y="338.5" fill="#FF0000" font-size="10.8" font-family='"Liberation Sans", sans-serif'>100pF</text>
<polyline points="747.66,383.74 803,383.74" stroke="#000080" stroke-width="1.4" fill="none" stroke-linejoin="miter"/>
<text x="753.2" y="381.24" fill="#800000" font-size="11" font-family='"Liberation Serif", serif'>SPI_STE</text>
<polyline points="747.66,396.04 803,396.04" stroke="#000080" stroke-width="1.4" fill="none" stroke-linejoin="miter"/>
<text x="753.2" y="393.54" fill="#800000" font-size="11" font-family='"Liberation Serif", serif'>SPI_SCLK</text>
<polyline points="747.66,408.33 803,408.33" stroke="#000080" stroke-width="1.4" fill="none" stroke-linejoin="miter"/>
<text x="753.2" y="405.83" fill="#800000" font-size="11" font-family='"Liberation Serif", serif'>SPI_SIMO</text>
<polyline points="747.66,445.22 803,445.22" stroke="#000080" stroke-width="1.4" fill="none" stroke-linejoin="miter"/>
<text x="753.2" y="442.72" fill="#800000" font-size="11" font-family='"Liberation Serif", serif'>LIN_EN</text>
<polyline points="747.66,494.4 815.4,494.4" stroke="#000080" stroke-width="1.4" fill="none" stroke-linejoin="miter"/>
<line x1="815.4" y1="494.4" x2="821.4" y2="494.4" stroke="#202020" stroke-width="1.5" stroke-linecap="butt"/>
<line x1="846.4" y1="494.4" x2="852.4" y2="494.4" stroke="#202020" stroke-width="1.5" stroke-linecap="butt"/>
<line x1="821.4" y1="494.4" x2="826.3" y2="494.4" stroke="#000080" stroke-width="1.5" stroke-linecap="butt"/>
<line x1="841.5" y1="494.4" x2="846.4" y2="494.4" stroke="#000080" stroke-width="1.5" stroke-linecap="butt"/>
<polyline points="826.3,494.4 827.4,491.4 830,497.4 832.6,491.4 835.2,497.4 837.8,491.4 840.4,497.4 841.5,494.4" stroke="#0000FF" stroke-width="1.3" fill="none" stroke-linejoin="miter"/>
<polyline points="852.4,494.4 907.8,494.4" stroke="#000080" stroke-width="1.4" fill="none" stroke-linejoin="miter"/>
<line x1="902" y1="494.4" x2="908.5" y2="494.4" stroke="#202020" stroke-width="1.6" stroke-linecap="butt"/>
<text x="753.6" y="492.5" fill="#800000" font-size="10.8" font-family='"Liberation Sans", sans-serif'>SCIRXD</text>
<text x="858.6" y="492.5" fill="#800000" font-size="11" font-family='"Liberation Serif", serif'>RRENAK_INT</text>
<text x="809.5" y="486.8" fill="#000080" font-size="10.6" font-family='"Liberation Sans", sans-serif'>R36</text>
<text x="821" y="510.5" fill="#FF0000" font-size="10.8" font-family='"Liberation Sans", sans-serif'>0Ω</text>
<polyline points="747.66,506.7 803.3,506.7" stroke="#000080" stroke-width="1.4" fill="none" stroke-linejoin="miter"/>
<text x="753.6" y="504.6" fill="#800000" font-size="10.8" font-family='"Liberation Sans", sans-serif'>SCITXD</text>
<polyline points="747.66,543.59 796.92,543.59" stroke="#000080" stroke-width="1.4" fill="none" stroke-linejoin="miter"/>
<line x1="796.92" y1="543.59" x2="802.92" y2="543.59" stroke="#202020" stroke-width="1.5" stroke-linecap="butt"/>
<line x1="827.92" y1="543.59" x2="833.92" y2="543.59" stroke="#202020" stroke-width="1.5" stroke-linecap="butt"/>
<line x1="802.92" y1="543.59" x2="807.82" y2="543.59" stroke="#000080" stroke-width="1.5" stroke-linecap="butt"/>
<line x1="823.02" y1="543.59" x2="827.92" y2="543.59" stroke="#000080" stroke-width="1.5" stroke-linecap="butt"/>
<polyline points="807.82,543.59 808.92,540.59 811.52,546.59 814.12,540.59 816.72,546.59 819.32,540.59 821.92,546.59 823.02,543.59" stroke="#0000FF" stroke-width="1.3" fill="none" stroke-linejoin="miter"/>
<polyline points="833.92,543.59 846.22,543.59" stroke="#000080" stroke-width="1.4" fill="none" stroke-linejoin="miter"/>
<line x1="846.22" y1="543.59" x2="858.54" y2="543.59" stroke="#800000" stroke-width="1.5" stroke-linecap="butt"/>
<line x1="858.54" y1="537.29" x2="858.54" y2="549.89" stroke="#800000" stroke-width="1.5" stroke-linecap="butt"/>
<text x="753.6" y="541.6" fill="#800000" font-size="10.8" font-family='"Liberation Sans", sans-serif'>IOPE4</text>
<text x="860.7" y="547.7" fill="#800000" font-size="10.8" font-family='"Liberation Sans", sans-serif'>VDD5V</text>
<text x="802.3" y="538.3" fill="#000080" font-size="10.6" font-family='"Liberation Sans", sans-serif'>R37</text>
<text x="802.3" y="556" fill="#FF0000" font-size="10.8" font-family='"Liberation Sans", sans-serif'>10KΩ</text>
<polyline points="747.66,660.4 827.76,660.4" stroke="#000080" stroke-width="1.4" fill="none" stroke-linejoin="miter"/>
<line x1="827.76" y1="660.4" x2="837.66" y2="660.4" stroke="#202020" stroke-width="1.5" stroke-linecap="butt"/>
<line x1="842.46" y1="660.4" x2="852.36" y2="660.4" stroke="#202020" stroke-width="1.5" stroke-linecap="butt"/>
<line x1="837.66" y1="650.2" x2="837.66" y2="670.6" stroke="#0000FF" stroke-width="1.6" stroke-linecap="butt"/>
<line x1="842.46" y1="650.2" x2="842.46" y2="670.6" stroke="#0000FF" stroke-width="1.6" stroke-linecap="butt"/>
<polyline points="852.36,660.4 877.02,660.4" stroke="#000080" stroke-width="1.4" fill="none" stroke-linejoin="miter"/>
<line x1="877.02" y1="660.4" x2="889.34" y2="660.4" stroke="#800000" stroke-width="1.5" stroke-linecap="butt"/>
<line x1="889.34" y1="647.9" x2="889.34" y2="672.9" stroke="#800000" stroke-width="1.5" stroke-linecap="butt"/>
<line x1="893.04" y1="651.4" x2="893.04" y2="669.4" stroke="#800000" stroke-width="1.5" stroke-linecap="butt"/>
<line x1="896.74" y1="654.9" x2="896.74" y2="665.9" stroke="#800000" stroke-width="1.5" stroke-linecap="butt"/>
<line x1="900.44" y1="658.8" x2="900.44" y2="662" stroke="#800000" stroke-width="1.5" stroke-linecap="butt"/>
<text x="903.14" y="664.2" fill="#800000" font-size="11" font-family='"Liberation Serif", serif' textLength="23.4" lengthAdjust="spacingAndGlyphs">GND</text>
<text x="752.4" y="657" fill="#800000" font-size="11" font-family='"Liberation Serif", serif'>RRENAK_INT</text>
<text x="832" y="647" fill="#000080" font-size="10.6" font-family='"Liberation Sans", sans-serif'>C22</text>
<text x="832.3" y="681.7" fill="#FF0000" font-size="10.8" font-family='"Liberation Sans", sans-serif'>NC</text>
<polyline points="747.66,678.84 759.98,678.84" stroke="#000080" stroke-width="1.4" fill="none" stroke-linejoin="miter"/>
<line x1="759.98" y1="678.84" x2="772.3" y2="678.84" stroke="#800000" stroke-width="1.5" stroke-linecap="butt"/>
<line x1="772.3" y1="666.34" x2="772.3" y2="691.34" stroke="#800000" stroke-width="1.5" stroke-linecap="butt"/>
<line x1="776" y1="669.84" x2="776" y2="687.84" stroke="#800000" stroke-width="1.5" stroke-linecap="butt"/>
<line x1="779.7" y1="673.34" x2="779.7" y2="684.34" stroke="#800000" stroke-width="1.5" stroke-linecap="butt"/>
<line x1="783.4" y1="677.24" x2="783.4" y2="680.44" stroke="#800000" stroke-width="1.5" stroke-linecap="butt"/>
<text x="786.1" y="682.64" fill="#800000" font-size="11" font-family='"Liberation Serif", serif' textLength="23.4" lengthAdjust="spacingAndGlyphs">GND</text>
<polyline points="103.73,205.58 114.07,205.58" stroke="#CC33CC" stroke-width="1" fill="none" stroke-linejoin="round"/>
<polyline points="106.18,203.94 106.18,210.2" stroke="#CC33CC" stroke-width="1" fill="none" stroke-linejoin="round"/>
<polyline points="111.62,203.94 111.62,210.2" stroke="#CC33CC" stroke-width="1" fill="none" stroke-linejoin="round"/>
<polyline points="106.18,207.34 111.62,207.34" stroke="#CC33CC" stroke-width="1" fill="none" stroke-linejoin="round"/>
<polyline points="106.18,208.84 111.62,208.84" stroke="#CC33CC" stroke-width="1" fill="none" stroke-linejoin="round"/>
<polyline points="102.92,210.47 114.88,210.47" stroke="#CC33CC" stroke-width="1" fill="none" stroke-linejoin="round"/>
<polyline points="105.91,210.74 103.46,212.92" stroke="#CC33CC" stroke-width="1" fill="none" stroke-linejoin="round"/>
<polyline points="111.89,210.74 114.61,212.92" stroke="#CC33CC" stroke-width="1" fill="none" stroke-linejoin="round"/>
<polyline points="105.91,213.74 111.89,213.74" stroke="#CC33CC" stroke-width="1" fill="none" stroke-linejoin="round"/>
<polyline points="108.9,211.56 108.9,216.32" stroke="#CC33CC" stroke-width="1" fill="none" stroke-linejoin="round"/>
<polyline points="104,216.32 113.8,216.32" stroke="#CC33CC" stroke-width="1" fill="none" stroke-linejoin="round"/>
<polyline points="117.39,205.3 119.02,207.21" stroke="#CC33CC" stroke-width="1" fill="none" stroke-linejoin="round"/>
<polyline points="116.84,214.55 119.29,211.02" stroke="#CC33CC" stroke-width="1" fill="none" stroke-linejoin="round"/>
<polyline points="122.56,203.94 120.92,208.84" stroke="#CC33CC" stroke-width="1" fill="none" stroke-linejoin="round"/>
<polyline points="121.74,206.94 121.74,216.46" stroke="#CC33CC" stroke-width="1" fill="none" stroke-linejoin="round"/>
<polyline points="124.73,203.94 125.82,205.58" stroke="#CC33CC" stroke-width="1" fill="none" stroke-linejoin="round"/>
<polyline points="121.74,206.39 129.08,206.39" stroke="#CC33CC" stroke-width="1" fill="none" stroke-linejoin="round"/>
<polyline points="125,206.39 125,215.64" stroke="#CC33CC" stroke-width="1" fill="none" stroke-linejoin="round"/>
<polyline points="121.74,209.38 128.54,209.38" stroke="#CC33CC" stroke-width="1" fill="none" stroke-linejoin="round"/>
<polyline points="121.74,212.38 128.54,212.38" stroke="#CC33CC" stroke-width="1" fill="none" stroke-linejoin="round"/>
<polyline points="121.74,215.64 129.49,215.64" stroke="#CC33CC" stroke-width="1" fill="none" stroke-linejoin="round"/>
<polyline points="136.76,203.94 136.76,209.38" stroke="#CC33CC" stroke-width="1" fill="none" stroke-linejoin="round"/>
<polyline points="136.76,206.39 141.65,206.39" stroke="#CC33CC" stroke-width="1" fill="none" stroke-linejoin="round"/>
<polyline points="133.22,208.84 141.38,208.84 141.38,212.65 133.22,212.65 133.22,208.84" stroke="#CC33CC" stroke-width="1" fill="none" stroke-linejoin="round"/>
<polyline points="132.68,214.28 131.59,216.32" stroke="#CC33CC" stroke-width="1" fill="none" stroke-linejoin="round"/>
<polyline points="135.4,214.55 135.94,216.32" stroke="#CC33CC" stroke-width="1" fill="none" stroke-linejoin="round"/>
<polyline points="138.39,214.55 139.2,216.32" stroke="#CC33CC" stroke-width="1" fill="none" stroke-linejoin="round"/>
<polyline points="141.38,214.28 143.01,216.32" stroke="#CC33CC" stroke-width="1" fill="none" stroke-linejoin="round"/>
<g transform="scale(0.8,1)">
<text x="184.79 194.11 203.44 212.76 222.09 250.06 259.39 268.71 278.04 296.69 306.01 315.34 324.66 333.99 343.31 352.64 361.96" y="215.6" fill="#CC33CC" font-size="13.8" font-family='"Liberation Serif", serif' text-anchor="middle">=1.5VG=15R=0.005Ω</text>
</g>
<g transform="scale(0.8,1)">
<text x="131.54 140.86" y="240.6" fill="#CC33CC" font-size="13.8" font-family='"Liberation Serif", serif' text-anchor="middle">OC</text>
</g>
<polyline points="118.38,229.49 120.01,231.12" stroke="#CC33CC" stroke-width="1" fill="none" stroke-linejoin="round"/>
<polyline points="117.56,233.84 119.74,233.84 119.74,240.1 121.37,238.46" stroke="#CC33CC" stroke-width="1" fill="none" stroke-linejoin="round"/>
<polyline points="123.28,229.49 123,233.3 121.64,234.38" stroke="#CC33CC" stroke-width="1" fill="none" stroke-linejoin="round"/>
<polyline points="123.28,229.76 127.08,229.76 127.08,233.02 129.53,233.57" stroke="#CC33CC" stroke-width="1" fill="none" stroke-linejoin="round"/>
<polyline points="122.46,235.47 128.72,235.47 123,241.46" stroke="#CC33CC" stroke-width="1" fill="none" stroke-linejoin="round"/>
<polyline points="124.09,236.83 130.08,241.46" stroke="#CC33CC" stroke-width="1" fill="none" stroke-linejoin="round"/>
<polyline points="132.58,228.94 143.46,228.94 143.46,232.21 132.58,232.21 132.58,228.94" stroke="#CC33CC" stroke-width="1" fill="none" stroke-linejoin="round"/>
<polyline points="136.25,228.94 136.25,232.21" stroke="#CC33CC" stroke-width="1" fill="none" stroke-linejoin="round"/>
<polyline points="139.79,228.94 139.79,232.21" stroke="#CC33CC" stroke-width="1" fill="none" stroke-linejoin="round"/>
<polyline points="133.4,233.57 142.64,233.57" stroke="#CC33CC" stroke-width="1" fill="none" stroke-linejoin="round"/>
<polyline points="138.02,232.48 138.02,234.66" stroke="#CC33CC" stroke-width="1" fill="none" stroke-linejoin="round"/>
<polyline points="134.76,234.93 141.28,234.93 141.28,240.37 134.76,240.37 134.76,234.93" stroke="#CC33CC" stroke-width="1" fill="none" stroke-linejoin="round"/>
<polyline points="134.76,236.7 141.28,236.7" stroke="#CC33CC" stroke-width="1" fill="none" stroke-linejoin="round"/>
<polyline points="134.76,238.46 141.28,238.46" stroke="#CC33CC" stroke-width="1" fill="none" stroke-linejoin="round"/>
<polyline points="133.12,234.38 133.12,241.46" stroke="#CC33CC" stroke-width="1" fill="none" stroke-linejoin="round"/>
<polyline points="133.12,241.46 144,241.46" stroke="#CC33CC" stroke-width="1" fill="none" stroke-linejoin="round"/>
<g transform="scale(0.8,1)">
<text x="185.69 195.01" y="240.6" fill="#CC33CC" font-size="13.8" font-family='"Liberation Serif", serif' text-anchor="middle">3V</text>
</g>
<polyline points="176.35,229.49 177.98,231.12" stroke="#CC33CC" stroke-width="1" fill="none" stroke-linejoin="round"/>
<polyline points="175.8,233.84 177.98,233.84 177.98,239.01 175.8,240.91" stroke="#CC33CC" stroke-width="1" fill="none" stroke-linejoin="round"/>
<polyline points="177.98,239.82 180.7,240.91 188.45,241.18" stroke="#CC33CC" stroke-width="1" fill="none" stroke-linejoin="round"/>
<polyline points="179.88,232.48 188.18,232.48" stroke="#CC33CC" stroke-width="1" fill="none" stroke-linejoin="round"/>
<polyline points="185.6,228.94 185.6,239.01 184.24,238.19" stroke="#CC33CC" stroke-width="1" fill="none" stroke-linejoin="round"/>
<polyline points="182.06,234.38 183.15,236.29" stroke="#CC33CC" stroke-width="1" fill="none" stroke-linejoin="round"/>
<polyline points="190.55,229.49 192.18,231.12" stroke="#CC33CC" stroke-width="1" fill="none" stroke-linejoin="round"/>
<polyline points="190,233.3 191.91,234.93" stroke="#CC33CC" stroke-width="1" fill="none" stroke-linejoin="round"/>
<polyline points="190,240.91 192.18,236.83" stroke="#CC33CC" stroke-width="1" fill="none" stroke-linejoin="round"/>
<polyline points="197.89,228.67 198.16,230.03" stroke="#CC33CC" stroke-width="1" fill="none" stroke-linejoin="round"/>
<polyline points="193.54,230.85 202.52,230.85" stroke="#CC33CC" stroke-width="1" fill="none" stroke-linejoin="round"/>
<polyline points="197.08,231.12 194.9,233.84 201.16,233.57" stroke="#CC33CC" stroke-width="1" fill="none" stroke-linejoin="round"/>
<polyline points="200.07,232.21 201.7,234.11" stroke="#CC33CC" stroke-width="1" fill="none" stroke-linejoin="round"/>
<polyline points="195.72,235.74 194.36,241.46" stroke="#CC33CC" stroke-width="1" fill="none" stroke-linejoin="round"/>
<polyline points="198.16,235.74 198.16,240.91" stroke="#CC33CC" stroke-width="1" fill="none" stroke-linejoin="round"/>
<polyline points="200.61,235.74 200.61,240.64 202.52,240.1" stroke="#CC33CC" stroke-width="1" fill="none" stroke-linejoin="round"/>
<polyline points="204.75,229.49 206.38,231.12" stroke="#CC33CC" stroke-width="1" fill="none" stroke-linejoin="round"/>
<polyline points="204.2,233.3 206.11,234.93" stroke="#CC33CC" stroke-width="1" fill="none" stroke-linejoin="round"/>
<polyline points="204.2,240.91 206.38,236.83" stroke="#CC33CC" stroke-width="1" fill="none" stroke-linejoin="round"/>
<polyline points="207.74,230.3 216.85,230.3" stroke="#CC33CC" stroke-width="1" fill="none" stroke-linejoin="round"/>
<polyline points="210.19,228.94 210.19,231.94" stroke="#CC33CC" stroke-width="1" fill="none" stroke-linejoin="round"/>
<polyline points="214.27,228.94 214.27,231.94" stroke="#CC33CC" stroke-width="1" fill="none" stroke-linejoin="round"/>
<polyline points="208.01,233.02 216.72,233.02" stroke="#CC33CC" stroke-width="1" fill="none" stroke-linejoin="round"/>
<polyline points="212.36,231.94 212.36,235.2" stroke="#CC33CC" stroke-width="1" fill="none" stroke-linejoin="round"/>
<polyline points="208.56,241.46 208.56,235.2 216.17,235.2 216.17,240.91 215.08,241.46" stroke="#CC33CC" stroke-width="1" fill="none" stroke-linejoin="round"/>
<polyline points="210.46,236.56 209.92,240.1" stroke="#CC33CC" stroke-width="1" fill="none" stroke-linejoin="round"/>
<polyline points="214,236.56 214.54,240.1" stroke="#CC33CC" stroke-width="1" fill="none" stroke-linejoin="round"/>
<polyline points="221.12,228.94 218.68,234.66" stroke="#CC33CC" stroke-width="1" fill="none" stroke-linejoin="round"/>
<polyline points="220.31,232.75 220.31,241.46" stroke="#CC33CC" stroke-width="1" fill="none" stroke-linejoin="round"/>
<polyline points="225.48,228.67 226.02,229.76" stroke="#CC33CC" stroke-width="1" fill="none" stroke-linejoin="round"/>
<polyline points="222.48,230.3 230.64,230.3" stroke="#CC33CC" stroke-width="1" fill="none" stroke-linejoin="round"/>
<polyline points="223.03,231.39 229.83,231.39 229.83,233.57 223.03,233.57 223.03,231.39" stroke="#CC33CC" stroke-width="1" fill="none" stroke-linejoin="round"/>
<polyline points="223.03,233.57 221.94,240.91" stroke="#CC33CC" stroke-width="1" fill="none" stroke-linejoin="round"/>
<polyline points="223.57,235.2 230.37,235.2 230.37,240.91 229.56,241.46" stroke="#CC33CC" stroke-width="1" fill="none" stroke-linejoin="round"/>
<polyline points="223.57,235.2 223.57,241.46" stroke="#CC33CC" stroke-width="1" fill="none" stroke-linejoin="round"/>
<polyline points="225.75,235.2 225.75,240.91" stroke="#CC33CC" stroke-width="1" fill="none" stroke-linejoin="round"/>
<polyline points="228.06,235.2 228.06,240.91" stroke="#CC33CC" stroke-width="1" fill="none" stroke-linejoin="round"/>
<polyline points="223.57,237.92 230.37,237.92" stroke="#CC33CC" stroke-width="1" fill="none" stroke-linejoin="round"/>
<g transform="scale(0.8,1)">
<text x="293.99 303.31 312.64" y="240.6" fill="#CC33CC" font-size="13.8" font-family='"Liberation Serif", serif' text-anchor="middle">20A</text>
</g>
<text x="963" y="705.8" fill="#FF0000" font-size="27" font-family='"Liberation Serif", serif' textLength="40" lengthAdjust="spacingAndGlyphs">DSP</text>
<polyline points="1015.29,684.74 1018.72,687.43" stroke="#FF0000" stroke-width="1.5" fill="none" stroke-linejoin="round"/>
<polyline points="1007.94,690.37 1026.56,690.37" stroke="#FF0000" stroke-width="1.5" fill="none" stroke-linejoin="round"/>
<polyline points="1009.41,697.72 1025.09,697.72" stroke="#FF0000" stroke-width="1.5" fill="none" stroke-linejoin="round"/>
<polyline points="1006.47,706.54 1028.03,706.54" stroke="#FF0000" stroke-width="1.5" fill="none" stroke-linejoin="round"/>
<polyline points="1017.25,690.37 1017.25,706.54" stroke="#FF0000" stroke-width="1.5" fill="none" stroke-linejoin="round"/>
<polyline points="1032.98,691.84 1039.84,691.84" stroke="#FF0000" stroke-width="1.5" fill="none" stroke-linejoin="round"/>
<polyline points="1036.41,684.98 1036.41,706.54 1034.45,705.07" stroke="#FF0000" stroke-width="1.5" fill="none" stroke-linejoin="round"/>
<polyline points="1032.98,701.64 1040.33,697.72" stroke="#FF0000" stroke-width="1.5" fill="none" stroke-linejoin="round"/>
<polyline points="1047.19,684.49 1048.66,686.7" stroke="#FF0000" stroke-width="1.5" fill="none" stroke-linejoin="round"/>
<polyline points="1041.8,691.35 1041.8,688.41 1055.03,688.41 1055.03,691.35" stroke="#FF0000" stroke-width="1.5" fill="none" stroke-linejoin="round"/>
<polyline points="1045.72,690.37 1042.78,695.27" stroke="#FF0000" stroke-width="1.5" fill="none" stroke-linejoin="round"/>
<polyline points="1050.13,690.37 1054.05,694.78" stroke="#FF0000" stroke-width="1.5" fill="none" stroke-linejoin="round"/>
<polyline points="1043.27,697.72 1054.05,697.72" stroke="#FF0000" stroke-width="1.5" fill="none" stroke-linejoin="round"/>
<polyline points="1048.66,697.72 1048.66,706.05" stroke="#FF0000" stroke-width="1.5" fill="none" stroke-linejoin="round"/>
<polyline points="1041.31,706.29 1055.77,706.29" stroke="#FF0000" stroke-width="1.5" fill="none" stroke-linejoin="round"/>
<polyline points="1062.92,688.9 1062.92,700.66" stroke="#FF0000" stroke-width="1.5" fill="none" stroke-linejoin="round"/>
<polyline points="1062.92,688.9 1079.58,688.9 1079.58,700.66" stroke="#FF0000" stroke-width="1.5" fill="none" stroke-linejoin="round"/>
<polyline points="1062.92,694.78 1079.58,694.78" stroke="#FF0000" stroke-width="1.5" fill="none" stroke-linejoin="round"/>
<polyline points="1062.92,700.66 1079.58,700.66" stroke="#FF0000" stroke-width="1.5" fill="none" stroke-linejoin="round"/>
<polyline points="1071.25,684.74 1071.25,705.07 1073.21,706.54 1082.03,706.54 1082.52,703.11" stroke="#FF0000" stroke-width="1.5" fill="none" stroke-linejoin="round"/>
<polyline points="1087.96,685.96 1095.31,685.96 1095.31,692.33 1087.96,692.33 1087.96,685.96" stroke="#FF0000" stroke-width="1.5" fill="none" stroke-linejoin="round"/>
<polyline points="1091.63,692.33 1091.63,704.58" stroke="#FF0000" stroke-width="1.5" fill="none" stroke-linejoin="round"/>
<polyline points="1091.63,698.21 1095.31,698.21" stroke="#FF0000" stroke-width="1.5" fill="none" stroke-linejoin="round"/>
<polyline points="1087.96,695.76 1087.96,705.07" stroke="#FF0000" stroke-width="1.5" fill="none" stroke-linejoin="round"/>
<polyline points="1086.49,706.54 1096.29,703.6" stroke="#FF0000" stroke-width="1.5" fill="none" stroke-linejoin="round"/>
<polyline points="1101.19,684.74 1097.27,692.33" stroke="#FF0000" stroke-width="1.5" fill="none" stroke-linejoin="round"/>
<polyline points="1099.72,687.43 1108.05,687.43 1098.74,696.25" stroke="#FF0000" stroke-width="1.5" fill="none" stroke-linejoin="round"/>
<polyline points="1101.19,690.37 1109.77,696.25" stroke="#FF0000" stroke-width="1.5" fill="none" stroke-linejoin="round"/>
<polyline points="1099.47,698.7 1108.05,698.7 1108.05,707.27 1099.47,707.27 1099.47,698.7" stroke="#FF0000" stroke-width="1.5" fill="none" stroke-linejoin="round"/>
<circle cx="334.94" cy="45.6" r="3" fill="#000080"/>
<circle cx="334.94" cy="107.08" r="3" fill="#000080"/>
<circle cx="378.06" cy="193.15" r="3" fill="#000080"/>
<circle cx="378.06" cy="205.45" r="3" fill="#000080"/>
<circle cx="378.06" cy="217.74" r="3" fill="#000080"/>
<circle cx="378.06" cy="230.04" r="3" fill="#000080"/>
<circle cx="378.06" cy="242.34" r="3" fill="#000080"/>
<circle cx="113.18" cy="297.67" r="3" fill="#000080"/>
<circle cx="217.9" cy="297.67" r="3" fill="#000080"/>
<circle cx="217.9" cy="285.37" r="3" fill="#000080"/>
<circle cx="310.3" cy="285.37" r="3" fill="#000080"/>
<circle cx="217.9" cy="334.56" r="3" fill="#000080"/>
<circle cx="217.9" cy="365.3" r="3" fill="#000080"/>
<circle cx="156.3" cy="519" r="3" fill="#000080"/>
<circle cx="267.18" cy="482.11" r="3" fill="#000080"/>
<circle cx="316.46" cy="482.11" r="3" fill="#000080"/>
<circle cx="402.7" cy="482.11" r="3" fill="#000080"/>
<circle cx="267.18" cy="531.29" r="3" fill="#000080"/>
<circle cx="316.46" cy="531.29" r="3" fill="#000080"/>
<circle cx="341.1" cy="555.88" r="3" fill="#000080"/>
<circle cx="341.1" cy="580.48" r="3" fill="#000080"/>
<circle cx="378.06" cy="555.88" r="3" fill="#000080"/>
<circle cx="378.06" cy="580.48" r="3" fill="#000080"/>
<circle cx="297.98" cy="605.07" r="3" fill="#000080"/>
<circle cx="347.26" cy="641.96" r="3" fill="#000080"/>
<circle cx="378.06" cy="641.96" r="3" fill="#000080"/>
<circle cx="378.06" cy="678.84" r="3" fill="#000080"/>
<circle cx="427.34" cy="678.84" r="3" fill="#000080"/>
<circle cx="772.3" cy="236.19" r="3" fill="#000080"/>
<circle cx="821.58" cy="236.19" r="3" fill="#000080"/>
<circle cx="772.3" cy="260.78" r="3" fill="#000080"/>
<circle cx="821.58" cy="260.78" r="3" fill="#000080"/>
<circle cx="858.54" cy="340.7" r="3" fill="#000080"/>
</svg>
</body></html>
